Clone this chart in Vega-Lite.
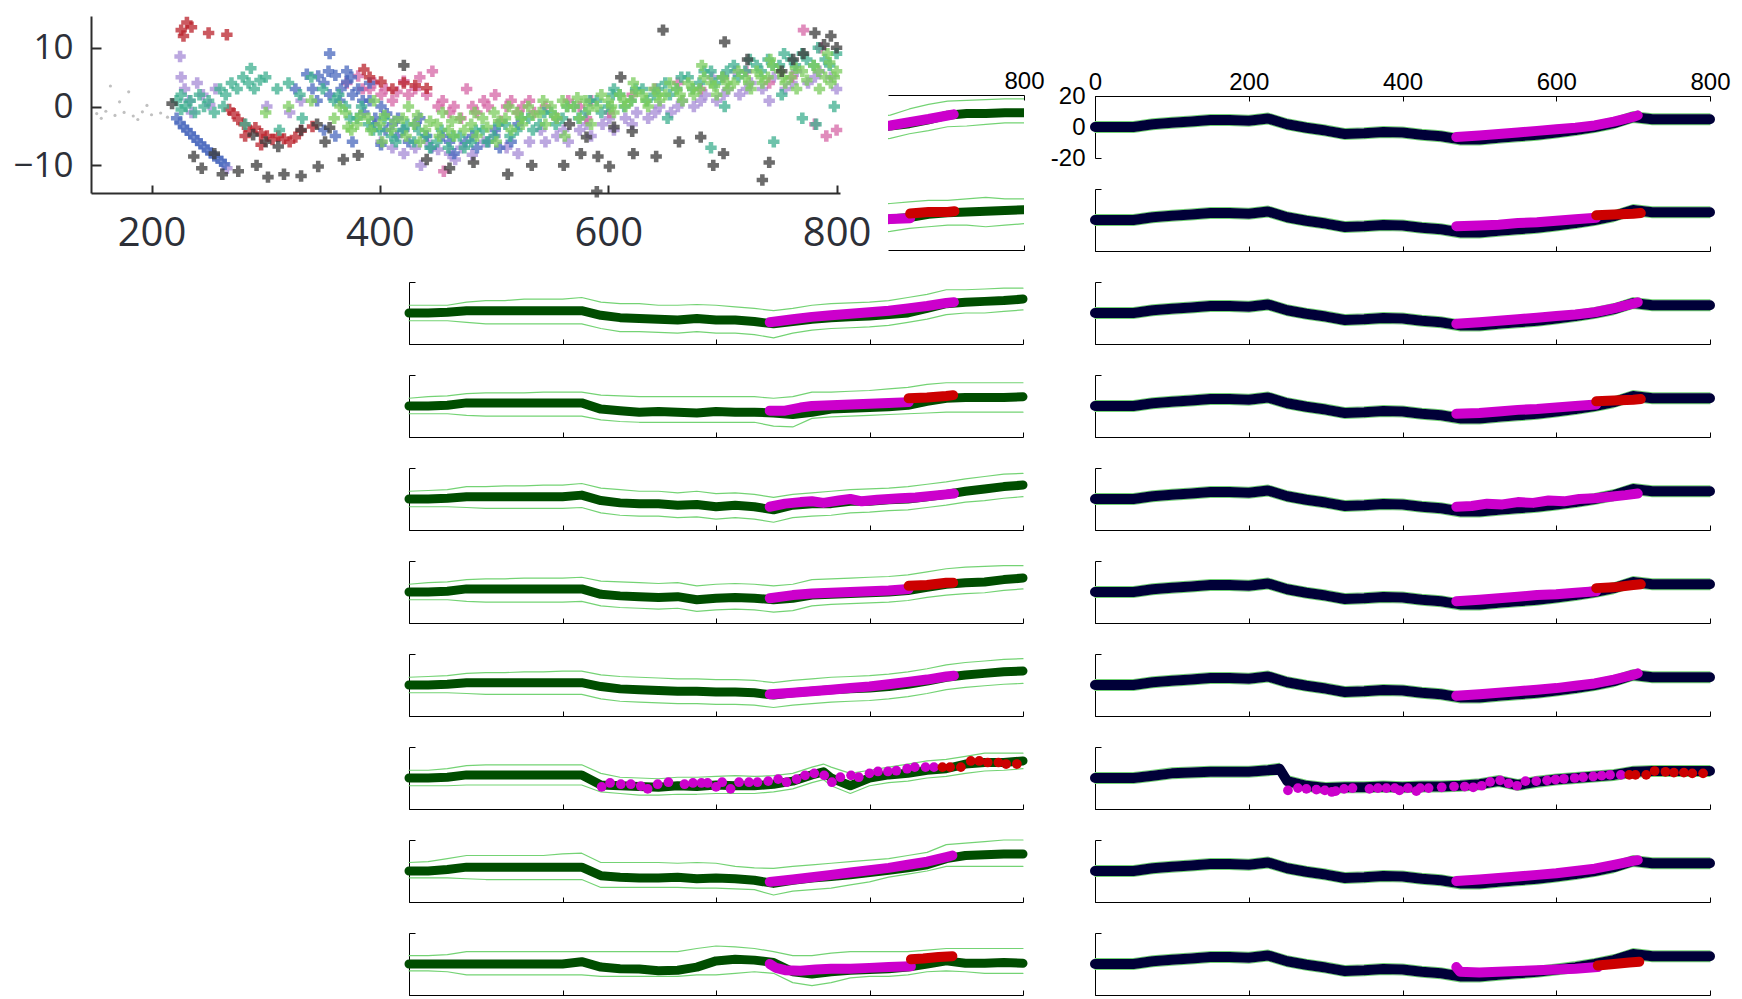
{
"$schema":"https://vega.github.io/schema/vega-lite/v6.json",
"background":"white",
"padding":{"left":12,"top":16,"right":5,"bottom":0},
"config":{"view":{"stroke":null},"axis":{"grid":false,"domainColor":"#000","tickColor":"#000","labelColor":"#000","labelFont":"Liberation Sans","labelFontSize":24,"domainWidth":1,"tickWidth":1,"labelFlush":false},"line":{"strokeCap":"round","strokeJoin":"round"}},
"datasets":{
"sc":[
{"x":152,"y":-1.2,"g":"f"},{"x":160,"y":-0.8,"g":"f"},{"x":168,"y":-1.5,"g":"f"},{"x":176,"y":-1,"g":"f"},{"x":184,"y":-1.6,"g":"f"},{"x":192,"y":-0.9,"g":"f"},{"x":200,"y":-1.4,"g":"f"},{"x":208,"y":-1.1,"g":"f"},{"x":214,"y":-1.8,"g":"f"},{"x":172,"y":0.8,"g":"f"},{"x":196,"y":0.2,"g":"f"},{"x":188,"y":-2.2,"g":"f"},{"x":156,"y":-2,"g":"f"},{"x":180,"y":2.5,"g":"f"},{"x":164,"y":3.5,"g":"f"},
{"x":225,"y":8.5,"g":"v"},{"x":229,"y":3,"g":"v"},{"x":233,"y":1,"g":"v"},{"x":240,"y":4,"g":"v"},{"x":245,"y":2,"g":"v"},{"x":251,"y":0.3,"g":"v"},{"x":256,"y":3,"g":"v"},{"x":301,"y":0,"g":"v"},{"x":321,"y":-1,"g":"v"},{"x":331,"y":1,"g":"v"},{"x":401,"y":-6,"g":"v"},{"x":411,"y":-7,"g":"v"},{"x":421,"y":-8,"g":"v"},{"x":431,"y":-7,"g":"v"},{"x":441,"y":-6,"g":"v"},{"x":451,"y":-7.3,"g":"v"},{"x":461,"y":-8,"g":"v"},{"x":471,"y":-7,"g":"v"},{"x":481,"y":-8.2,"g":"v"},{"x":491,"y":-6,"g":"v"},{"x":501,"y":-5,"g":"v"},{"x":511,"y":-7,"g":"v"},{"x":521,"y":-8,"g":"v"},{"x":531,"y":-6,"g":"v"},{"x":541,"y":-4,"g":"v"},{"x":561,"y":-4,"g":"v"},{"x":581,"y":-3,"g":"v"},{"x":601,"y":-2,"g":"v"},{"x":621,"y":-3,"g":"v"},{"x":641,"y":-1,"g":"v"},{"x":661,"y":0,"g":"v"},{"x":681,"y":1,"g":"v"},{"x":701,"y":2,"g":"v"},{"x":721,"y":3,"g":"v"},{"x":741,"y":1,"g":"v"},{"x":761,"y":4,"g":"v"},{"x":781,"y":5,"g":"v"},{"x":800,"y":3,"g":"v"},{"x":691,"y":5,"g":"v"},{"x":711,"y":6,"g":"v"},{"x":226,"y":5,"g":"v"},{"x":235,"y":-1,"g":"v"},{"x":266,"y":-10.5,"g":"v"},{"x":436,"y":-10,"g":"v"},{"x":466,"y":-9,"g":"v"},
{"x":545,"y":-6,"g":"v"},{"x":555,"y":-5,"g":"v"},{"x":565,"y":-6,"g":"v"},{"x":575,"y":-4,"g":"v"},{"x":585,"y":-5,"g":"v"},{"x":595,"y":-3,"g":"v"},{"x":605,"y":-4,"g":"v"},{"x":615,"y":-2,"g":"v"},{"x":625,"y":-1,"g":"v"},{"x":635,"y":-2,"g":"v"},{"x":645,"y":0,"g":"v"},{"x":655,"y":-1,"g":"v"},{"x":665,"y":1,"g":"v"},{"x":675,"y":0,"g":"v"},{"x":685,"y":2,"g":"v"},{"x":695,"y":1,"g":"v"},{"x":705,"y":3,"g":"v"},{"x":715,"y":2,"g":"v"},{"x":725,"y":4,"g":"v"},{"x":735,"y":3,"g":"v"},{"x":745,"y":5,"g":"v"},{"x":755,"y":3,"g":"v"},{"x":765,"y":6,"g":"v"},{"x":775,"y":4,"g":"v"},{"x":785,"y":6,"g":"v"},{"x":795,"y":5,"g":"v"},
{"x":371,"y":4,"g":"p"},{"x":381,"y":5.2,"g":"p"},{"x":391,"y":3,"g":"p"},{"x":401,"y":2,"g":"p"},{"x":411,"y":1,"g":"p"},{"x":421,"y":4.3,"g":"p"},{"x":431,"y":3,"g":"p"},{"x":441,"y":2,"g":"p"},{"x":451,"y":0,"g":"p"},{"x":461,"y":-1,"g":"p"},{"x":471,"y":-2,"g":"p"},{"x":481,"y":0,"g":"p"},{"x":491,"y":1,"g":"p"},{"x":501,"y":2,"g":"p"},{"x":511,"y":0,"g":"p"},{"x":521,"y":-1,"g":"p"},{"x":531,"y":1,"g":"p"},{"x":621,"y":2,"g":"p"},{"x":641,"y":3,"g":"p"},{"x":661,"y":4,"g":"p"},{"x":681,"y":3,"g":"p"},{"x":701,"y":5,"g":"p"},{"x":721,"y":6,"g":"p"},{"x":741,"y":4,"g":"p"},{"x":761,"y":5,"g":"p"},{"x":781,"y":-3,"g":"p"},{"x":791,"y":-5,"g":"p"},{"x":800,"y":-4,"g":"p"},{"x":601,"y":-1,"g":"p"},{"x":581,"y":-2,"g":"p"},{"x":446,"y":6,"g":"p"},{"x":476,"y":3,"g":"p"},{"x":506,"y":-2.5,"g":"p"},{"x":786,"y":10,"g":"p"},{"x":771,"y":13,"g":"p"},{"x":456,"y":-11,"g":"p"},
{"x":385,"y":3,"g":"p"},{"x":395,"y":4,"g":"p"},{"x":405,"y":3,"g":"p"},{"x":415,"y":2.5,"g":"p"},{"x":425,"y":2,"g":"p"},{"x":435,"y":5,"g":"p"},{"x":455,"y":1,"g":"p"},{"x":465,"y":0,"g":"p"},{"x":485,"y":-1,"g":"p"},{"x":495,"y":0,"g":"p"},{"x":515,"y":1,"g":"p"},{"x":525,"y":0,"g":"p"},{"x":535,"y":-1,"g":"p"},{"x":545,"y":0,"g":"p"},{"x":555,"y":-2,"g":"p"},{"x":565,"y":1,"g":"p"},{"x":575,"y":0,"g":"p"},{"x":585,"y":1,"g":"p"},
{"x":222,"y":-2,"g":"b"},{"x":225,"y":-2.8,"g":"b"},{"x":228,"y":-3.5,"g":"b"},{"x":231,"y":-4,"g":"b"},{"x":234,"y":-4.6,"g":"b"},{"x":237,"y":-5.2,"g":"b"},{"x":240,"y":-5.8,"g":"b"},{"x":243,"y":-6.3,"g":"b"},{"x":246,"y":-6.9,"g":"b"},{"x":249,"y":-7.4,"g":"b"},{"x":252,"y":-7.9,"g":"b"},{"x":255,"y":-8.4,"g":"b"},{"x":258,"y":-8.8,"g":"b"},{"x":261,"y":-9.3,"g":"b"},{"x":264,"y":-9.8,"g":"b"},{"x":341,"y":3,"g":"b"},{"x":346,"y":5.2,"g":"b"},{"x":351,"y":4,"g":"b"},{"x":356,"y":2,"g":"b"},{"x":361,"y":5.3,"g":"b"},{"x":366,"y":3,"g":"b"},{"x":371,"y":4.2,"g":"b"},{"x":376,"y":2,"g":"b"},{"x":381,"y":3,"g":"b"},{"x":386,"y":-1,"g":"b"},{"x":391,"y":1,"g":"b"},{"x":396,"y":-2,"g":"b"},{"x":401,"y":0,"g":"b"},{"x":406,"y":-1.2,"g":"b"},{"x":411,"y":-3,"g":"b"},{"x":416,"y":-2,"g":"b"},{"x":421,"y":-4,"g":"b"},{"x":431,"y":-3,"g":"b"},{"x":441,"y":-5,"g":"b"},{"x":461,"y":-6,"g":"b"},{"x":481,"y":-5,"g":"b"},{"x":501,"y":-4,"g":"b"},{"x":521,"y":-3,"g":"b"},{"x":356,"y":9,"g":"b"},{"x":351,"y":-4,"g":"b"},{"x":361,"y":-5,"g":"b"},{"x":376,"y":-6,"g":"b"},{"x":401,"y":-6.5,"g":"b"},{"x":336,"y":5.5,"g":"b"},{"x":326,"y":3,"g":"b"},{"x":371,"y":6,"g":"b"},{"x":391,"y":4,"g":"b"},
{"x":345,"y":1,"g":"b"},{"x":355,"y":6,"g":"b"},{"x":365,"y":1,"g":"b"},{"x":375,"y":5,"g":"b"},{"x":385,"y":1,"g":"b"},{"x":395,"y":-3,"g":"b"},{"x":405,"y":-4,"g":"b"},{"x":415,"y":-5,"g":"b"},{"x":425,"y":-6,"g":"b"},{"x":435,"y":-2,"g":"b"},{"x":445,"y":-7,"g":"b"},{"x":455,"y":-5,"g":"b"},{"x":465,"y":-8,"g":"b"},{"x":475,"y":-6,"g":"b"},{"x":485,"y":-7,"g":"b"},{"x":495,"y":-6,"g":"b"},{"x":505,"y":-7,"g":"b"},{"x":515,"y":-6,"g":"b"},
{"x":226,"y":13,"g":"r"},{"x":231,"y":14.3,"g":"r"},{"x":235,"y":13.5,"g":"r"},{"x":228,"y":12,"g":"r"},{"x":250,"y":12.5,"g":"r"},{"x":266,"y":12.2,"g":"r"},{"x":272,"y":-1.2,"g":"r"},{"x":276,"y":-2.2,"g":"r"},{"x":281,"y":-3,"g":"r"},{"x":286,"y":-4,"g":"r"},{"x":291,"y":-3.6,"g":"r"},{"x":296,"y":-4.6,"g":"r"},{"x":301,"y":-5,"g":"r"},{"x":306,"y":-5.6,"g":"r"},{"x":311,"y":-5,"g":"r"},{"x":316,"y":-5.5,"g":"r"},{"x":321,"y":-6,"g":"r"},{"x":326,"y":-5.2,"g":"r"},{"x":331,"y":-4.1,"g":"r"},{"x":341,"y":-3.4,"g":"r"},{"x":386,"y":6.3,"g":"r"},{"x":391,"y":5,"g":"r"},{"x":401,"y":4.2,"g":"r"},{"x":411,"y":3,"g":"r"},{"x":421,"y":4,"g":"r"},{"x":431,"y":3.6,"g":"r"},{"x":441,"y":3.1,"g":"r"},{"x":282,"y":-5,"g":"r"},{"x":296,"y":-6.5,"g":"r"},{"x":268,"y":-0.5,"g":"r"},
{"x":222,"y":1,"g":"t"},{"x":226,"y":2,"g":"t"},{"x":230,"y":0,"g":"t"},{"x":234,"y":1,"g":"t"},{"x":238,"y":-1,"g":"t"},{"x":242,"y":2,"g":"t"},{"x":246,"y":0,"g":"t"},{"x":250,"y":1,"g":"t"},{"x":255,"y":-1,"g":"t"},{"x":260,"y":3,"g":"t"},{"x":265,"y":2,"g":"t"},{"x":270,"y":4,"g":"t"},{"x":275,"y":3,"g":"t"},{"x":280,"y":5,"g":"t"},{"x":285,"y":4,"g":"t"},{"x":290,"y":3,"g":"t"},{"x":295,"y":4.5,"g":"t"},{"x":300,"y":5,"g":"t"},{"x":310,"y":3,"g":"t"},{"x":320,"y":4,"g":"t"},{"x":330,"y":2,"g":"t"},{"x":340,"y":5,"g":"t"},{"x":350,"y":3,"g":"t"},{"x":360,"y":1,"g":"t"},{"x":370,"y":0,"g":"t"},{"x":380,"y":-2,"g":"t"},{"x":390,"y":-3,"g":"t"},{"x":400,"y":-4,"g":"t"},{"x":410,"y":-5,"g":"t"},{"x":420,"y":-4,"g":"t"},{"x":430,"y":-6,"g":"t"},{"x":440,"y":-5,"g":"t"},{"x":450,"y":-6,"g":"t"},{"x":460,"y":-7,"g":"t"},{"x":470,"y":-5,"g":"t"},{"x":480,"y":-6,"g":"t"},{"x":490,"y":-4,"g":"t"},{"x":500,"y":-5,"g":"t"},{"x":510,"y":-3,"g":"t"},{"x":520,"y":-4,"g":"t"},{"x":530,"y":-2,"g":"t"},{"x":540,"y":-3,"g":"t"},{"x":550,"y":-1,"g":"t"},{"x":560,"y":-2,"g":"t"},{"x":570,"y":0,"g":"t"},{"x":580,"y":-1,"g":"t"},{"x":590,"y":1,"g":"t"},{"x":600,"y":0,"g":"t"},{"x":610,"y":2,"g":"t"},{"x":620,"y":1,"g":"t"},{"x":630,"y":3,"g":"t"},{"x":640,"y":2,"g":"t"},{"x":650,"y":4,"g":"t"},{"x":660,"y":3,"g":"t"},{"x":670,"y":5,"g":"t"},{"x":680,"y":4,"g":"t"},{"x":690,"y":6,"g":"t"},{"x":700,"y":5,"g":"t"},{"x":710,"y":7,"g":"t"},{"x":720,"y":6,"g":"t"},{"x":730,"y":7,"g":"t"},{"x":740,"y":8,"g":"t"},{"x":750,"y":7,"g":"t"},{"x":760,"y":8,"g":"t"},{"x":770,"y":9,"g":"t"},{"x":780,"y":7,"g":"t"},{"x":790,"y":8,"g":"t"},{"x":800,"y":9,"g":"t"},{"x":605,"y":3,"g":"t"},{"x":652,"y":-2,"g":"t"},{"x":702,"y":0,"g":"t"},{"x":752,"y":2,"g":"t"},{"x":782,"y":-3,"g":"t"},{"x":798,"y":0,"g":"t"},{"x":332,"y":-2,"g":"t"},{"x":312,"y":-4,"g":"t"},{"x":282,"y":-3,"g":"t"},{"x":226,"y":-0.5,"g":"t"},{"x":263,"y":0,"g":"t"},{"x":287,"y":6.5,"g":"t"},{"x":690,"y":-7,"g":"t"},{"x":745,"y":-6,"g":"t"},{"x":770,"y":-2,"g":"t"},
{"x":364,"y":2,"g":"t"},{"x":374,"y":-2,"g":"t"},{"x":384,"y":0,"g":"t"},{"x":394,"y":-4,"g":"t"},{"x":404,"y":-2,"g":"t"},{"x":414,"y":-6,"g":"t"},{"x":424,"y":-3,"g":"t"},{"x":434,"y":-4,"g":"t"},{"x":444,"y":-7,"g":"t"},{"x":454,"y":-4,"g":"t"},{"x":464,"y":-5,"g":"t"},{"x":474,"y":-7,"g":"t"},{"x":484,"y":-4,"g":"t"},{"x":494,"y":-6,"g":"t"},{"x":504,"y":-3,"g":"t"},{"x":514,"y":-5,"g":"t"},{"x":524,"y":-2,"g":"t"},{"x":534,"y":-4,"g":"t"},{"x":544,"y":-1,"g":"t"},{"x":554,"y":-3,"g":"t"},{"x":564,"y":0,"g":"t"},{"x":574,"y":-2,"g":"t"},{"x":584,"y":1,"g":"t"},{"x":594,"y":-1,"g":"t"},{"x":604,"y":2,"g":"t"},{"x":614,"y":0,"g":"t"},{"x":624,"y":3,"g":"t"},{"x":634,"y":1,"g":"t"},{"x":644,"y":3,"g":"t"},{"x":654,"y":2,"g":"t"},{"x":664,"y":5,"g":"t"},{"x":674,"y":3,"g":"t"},{"x":684,"y":6,"g":"t"},{"x":694,"y":4,"g":"t"},{"x":704,"y":6,"g":"t"},{"x":714,"y":5,"g":"t"},{"x":724,"y":8,"g":"t"},{"x":734,"y":6,"g":"t"},{"x":744,"y":7,"g":"t"},{"x":754,"y":9,"g":"t"},{"x":764,"y":7,"g":"t"},{"x":774,"y":8,"g":"t"},{"x":784,"y":10,"g":"t"},{"x":794,"y":7,"g":"t"},
{"x":360,"y":-2,"g":"g"},{"x":370,"y":-1,"g":"g"},{"x":380,"y":-3,"g":"g"},{"x":390,"y":-2,"g":"g"},{"x":400,"y":-3,"g":"g"},{"x":410,"y":-4,"g":"g"},{"x":420,"y":-2,"g":"g"},{"x":430,"y":-3,"g":"g"},{"x":440,"y":-4,"g":"g"},{"x":450,"y":-3,"g":"g"},{"x":460,"y":-4,"g":"g"},{"x":470,"y":-2,"g":"g"},{"x":480,"y":-3,"g":"g"},{"x":490,"y":-2,"g":"g"},{"x":500,"y":-1,"g":"g"},{"x":510,"y":-2,"g":"g"},{"x":520,"y":-1,"g":"g"},{"x":530,"y":0,"g":"g"},{"x":540,"y":-1,"g":"g"},{"x":550,"y":0,"g":"g"},{"x":560,"y":1,"g":"g"},{"x":570,"y":0,"g":"g"},{"x":580,"y":1,"g":"g"},{"x":590,"y":0,"g":"g"},{"x":600,"y":1,"g":"g"},{"x":610,"y":2,"g":"g"},{"x":620,"y":1,"g":"g"},{"x":630,"y":2,"g":"g"},{"x":640,"y":3,"g":"g"},{"x":650,"y":2,"g":"g"},{"x":660,"y":3,"g":"g"},{"x":670,"y":4,"g":"g"},{"x":680,"y":3,"g":"g"},{"x":690,"y":4,"g":"g"},{"x":700,"y":5,"g":"g"},{"x":710,"y":4,"g":"g"},{"x":720,"y":5,"g":"g"},{"x":730,"y":6,"g":"g"},{"x":740,"y":5,"g":"g"},{"x":750,"y":6,"g":"g"},{"x":760,"y":5,"g":"g"},{"x":770,"y":6,"g":"g"},{"x":780,"y":7,"g":"g"},{"x":790,"y":5,"g":"g"},{"x":800,"y":6,"g":"g"},{"x":365,"y":0,"g":"g"},{"x":395,"y":1,"g":"g"},{"x":425,"y":0,"g":"g"},{"x":455,"y":-1,"g":"g"},{"x":485,"y":-5,"g":"g"},{"x":515,"y":-4,"g":"g"},{"x":545,"y":-3,"g":"g"},{"x":575,"y":-2,"g":"g"},{"x":605,"y":-1,"g":"g"},{"x":635,"y":0,"g":"g"},{"x":665,"y":1,"g":"g"},{"x":695,"y":2,"g":"g"},{"x":725,"y":3,"g":"g"},{"x":755,"y":4,"g":"g"},{"x":785,"y":3,"g":"g"},{"x":402,"y":-6,"g":"g"},{"x":502,"y":-6,"g":"g"},{"x":562,"y":-5,"g":"g"},{"x":622,"y":4,"g":"g"},{"x":682,"y":7,"g":"g"},{"x":742,"y":8,"g":"g"},{"x":792,"y":9,"g":"g"},{"x":300,"y":-1,"g":"g"},{"x":320,"y":0,"g":"g"},{"x":340,"y":1,"g":"g"},{"x":375,"y":-4,"g":"g"},{"x":435,"y":-6,"g":"g"},{"x":465,"y":-5,"g":"g"},{"x":525,"y":-3,"g":"g"},{"x":555,"y":-2,"g":"g"},{"x":585,"y":-3,"g":"g"},{"x":615,"y":0,"g":"g"},{"x":645,"y":1,"g":"g"},{"x":675,"y":2,"g":"g"},{"x":705,"y":3,"g":"g"},{"x":735,"y":4,"g":"g"},{"x":765,"y":3,"g":"g"},{"x":795,"y":4,"g":"g"},
{"x":372,"y":-3.5,"g":"g"},{"x":383,"y":-1.5,"g":"g"},{"x":392,"y":-4,"g":"g"},{"x":404,"y":-1.5,"g":"g"},{"x":413,"y":-2.5,"g":"g"},{"x":423,"y":-5,"g":"g"},{"x":433,"y":-1.5,"g":"g"},{"x":444,"y":-2.5,"g":"g"},{"x":452,"y":-5,"g":"g"},{"x":463,"y":-2.5,"g":"g"},{"x":474,"y":-4,"g":"g"},{"x":483,"y":-1,"g":"g"},{"x":494,"y":-3.5,"g":"g"},{"x":504,"y":-2.5,"g":"g"},{"x":513,"y":0,"g":"g"},{"x":524,"y":-2,"g":"g"},{"x":534,"y":-1.5,"g":"g"},{"x":543,"y":1,"g":"g"},{"x":553,"y":-1.5,"g":"g"},{"x":564,"y":0,"g":"g"},{"x":573,"y":1.5,"g":"g"},{"x":583,"y":-0.5,"g":"g"},{"x":594,"y":2,"g":"g"},{"x":603,"y":0,"g":"g"},{"x":614,"y":1,"g":"g"},{"x":624,"y":2.5,"g":"g"},{"x":633,"y":1,"g":"g"},{"x":644,"y":2,"g":"g"},{"x":654,"y":4,"g":"g"},{"x":663,"y":2,"g":"g"},{"x":674,"y":3,"g":"g"},{"x":684,"y":5,"g":"g"},{"x":693,"y":3.5,"g":"g"},{"x":704,"y":4,"g":"g"},{"x":714,"y":6,"g":"g"},{"x":723,"y":4,"g":"g"},{"x":734,"y":5,"g":"g"},{"x":744,"y":7,"g":"g"},{"x":753,"y":5,"g":"g"},{"x":764,"y":6.5,"g":"g"},{"x":774,"y":4.5,"g":"g"},{"x":784,"y":6,"g":"g"},{"x":794,"y":7.5,"g":"g"},{"x":798,"y":5,"g":"g"},
{"x":218,"y":0.5,"g":"k"},{"x":237,"y":-8.5,"g":"k"},{"x":244,"y":-10.5,"g":"k"},{"x":262,"y":-11.5,"g":"k"},{"x":276,"y":-11,"g":"k"},{"x":292,"y":-10,"g":"k"},{"x":302,"y":-12,"g":"k"},{"x":316,"y":-11.5,"g":"k"},{"x":331,"y":-11.8,"g":"k"},{"x":346,"y":-10.2,"g":"k"},{"x":352,"y":-6,"g":"k"},{"x":368,"y":-9,"g":"k"},{"x":289,"y":-4.8,"g":"k"},{"x":311,"y":-6.8,"g":"k"},{"x":381,"y":-8.3,"g":"k"},{"x":421,"y":7,"g":"k"},{"x":441,"y":-9,"g":"k"},{"x":461,"y":-10.5,"g":"k"},{"x":482,"y":-9.5,"g":"k"},{"x":512,"y":-11.5,"g":"k"},{"x":533,"y":-10,"g":"k"},{"x":561,"y":-10,"g":"k"},{"x":576,"y":-8,"g":"k"},{"x":591,"y":-8.5,"g":"k"},{"x":601,"y":-10.2,"g":"k"},{"x":622,"y":-8,"g":"k"},{"x":642,"y":-8.5,"g":"k"},{"x":662,"y":-6,"g":"k"},{"x":692,"y":-10,"g":"k"},{"x":701,"y":-8,"g":"k"},{"x":741,"y":-9.5,"g":"k"},{"x":735,"y":-12.5,"g":"k"},{"x":722,"y":8,"g":"k"},{"x":752,"y":6,"g":"k"},{"x":771,"y":9,"g":"k"},{"x":789,"y":10.5,"g":"k"},{"x":795,"y":12,"g":"k"},{"x":800,"y":10,"g":"k"},{"x":781,"y":12.5,"g":"k"},{"x":605,"y":-3.5,"g":"k"},{"x":611,"y":5,"g":"k"},{"x":648,"y":13,"g":"k"},{"x":702,"y":11,"g":"k"},{"x":762,"y":8,"g":"k"},{"x":345,"y":-3,"g":"k"},{"x":331,"y":-4,"g":"k"},{"x":356,"y":-3.6,"g":"k"},{"x":566,"y":-3,"g":"k"},{"x":581,"y":-5.2,"g":"k"},{"x":621,"y":-4.2,"g":"k"},{"x":681,"y":-5.2,"g":"k"},{"x":255,"y":-8,"g":"k"},{"x":300,"y":-6,"g":"k"},{"x":590,"y":-14.5,"g":"k"}
],
"m":[
{"p":"L1","x":600,"y":-1,"u":6,"l":-9},{"p":"L1","x":625,"y":0,"u":7,"l":-8},{"p":"L1","x":650,"y":1.5,"u":11,"l":-5},{"p":"L1","x":675,"y":4,"u":14,"l":-3},{"p":"L1","x":700,"y":7,"u":16,"l":-0.5},{"p":"L1","x":725,"y":8,"u":16.5,"l":0},{"p":"L1","x":750,"y":8,"u":17,"l":1},{"p":"L1","x":775,"y":8.5,"u":17.5,"l":2},{"p":"L1","x":800,"y":8.5,"u":17.5,"l":2},
{"p":"L2","x":600,"y":-1,"u":9,"l":-9},{"p":"L2","x":625,"y":0,"u":10,"l":-8},{"p":"L2","x":650,"y":1,"u":11,"l":-6},{"p":"L2","x":675,"y":3,"u":12,"l":-5},{"p":"L2","x":700,"y":4,"u":12,"l":-4},{"p":"L2","x":725,"y":4.5,"u":13,"l":-4},{"p":"L2","x":750,"y":5,"u":14,"l":-5},{"p":"L2","x":775,"y":5.5,"u":13,"l":-4},{"p":"L2","x":800,"y":6,"u":13,"l":-3},
{"p":"L3","x":0,"y":0,"u":5,"l":-5},{"p":"L3","x":25,"y":0,"u":5,"l":-5},{"p":"L3","x":50,"y":0.5,"u":5,"l":-5},{"p":"L3","x":75,"y":1.5,"u":7,"l":-6},{"p":"L3","x":100,"y":1.5,"u":8,"l":-7},{"p":"L3","x":125,"y":1.5,"u":8,"l":-7},{"p":"L3","x":150,"y":1.5,"u":9,"l":-7},{"p":"L3","x":175,"y":1.5,"u":9,"l":-7},{"p":"L3","x":200,"y":1.5,"u":9,"l":-7},{"p":"L3","x":225,"y":1.5,"u":10,"l":-7},{"p":"L3","x":250,"y":-1.5,"u":7,"l":-10},{"p":"L3","x":275,"y":-3,"u":6,"l":-12},{"p":"L3","x":300,"y":-3.5,"u":6,"l":-12},{"p":"L3","x":325,"y":-4,"u":5,"l":-12.5},{"p":"L3","x":350,"y":-4.5,"u":5,"l":-13},{"p":"L3","x":375,"y":-3.5,"u":5.5,"l":-12},{"p":"L3","x":400,"y":-4.5,"u":5,"l":-13},{"p":"L3","x":425,"y":-4.5,"u":4,"l":-13},{"p":"L3","x":450,"y":-5.5,"u":3,"l":-14},{"p":"L3","x":475,"y":-7,"u":1.5,"l":-16},{"p":"L3","x":500,"y":-5.5,"u":3,"l":-13},{"p":"L3","x":525,"y":-4,"u":5,"l":-11},{"p":"L3","x":550,"y":-3,"u":6,"l":-10},{"p":"L3","x":575,"y":-2.5,"u":6.5,"l":-9.5},{"p":"L3","x":600,"y":-2,"u":7,"l":-9},{"p":"L3","x":625,"y":-1,"u":8,"l":-8},{"p":"L3","x":650,"y":0,"u":10,"l":-6},{"p":"L3","x":675,"y":3,"u":12,"l":-4},{"p":"L3","x":700,"y":6,"u":15,"l":-1},{"p":"L3","x":725,"y":7,"u":15,"l":0},{"p":"L3","x":750,"y":7.5,"u":15.5,"l":0},{"p":"L3","x":775,"y":8,"u":16,"l":1},{"p":"L3","x":800,"y":9,"u":16,"l":2},
{"p":"L4","x":0,"y":0,"u":5,"l":-5},{"p":"L4","x":25,"y":0,"u":6,"l":-5},{"p":"L4","x":50,"y":0.5,"u":6.5,"l":-5},{"p":"L4","x":75,"y":2,"u":8,"l":-6},{"p":"L4","x":100,"y":2,"u":8.5,"l":-6.5},{"p":"L4","x":125,"y":2,"u":8.5,"l":-6.5},{"p":"L4","x":150,"y":2,"u":8.5,"l":-6.5},{"p":"L4","x":175,"y":2,"u":9,"l":-6.5},{"p":"L4","x":200,"y":2,"u":9,"l":-6.5},{"p":"L4","x":225,"y":2,"u":9,"l":-6.5},{"p":"L4","x":250,"y":-2,"u":7,"l":-9},{"p":"L4","x":275,"y":-3,"u":6.5,"l":-10},{"p":"L4","x":300,"y":-4,"u":6,"l":-10.5},{"p":"L4","x":325,"y":-3.5,"u":6,"l":-10.5},{"p":"L4","x":350,"y":-4,"u":6,"l":-10.5},{"p":"L4","x":375,"y":-4.5,"u":6,"l":-10.5},{"p":"L4","x":400,"y":-3.5,"u":6,"l":-10.5},{"p":"L4","x":425,"y":-4,"u":6,"l":-10.5},{"p":"L4","x":450,"y":-4,"u":6,"l":-10.5},{"p":"L4","x":475,"y":-4.5,"u":5,"l":-13},{"p":"L4","x":500,"y":-5.5,"u":6,"l":-13.5},{"p":"L4","x":525,"y":-4,"u":9,"l":-8},{"p":"L4","x":550,"y":-2,"u":9,"l":-7},{"p":"L4","x":575,"y":-1.5,"u":9.5,"l":-6.5},{"p":"L4","x":600,"y":-1,"u":10,"l":-6},{"p":"L4","x":625,"y":-0.5,"u":11,"l":-5.5},{"p":"L4","x":650,"y":0.5,"u":12,"l":-5},{"p":"L4","x":675,"y":3,"u":14,"l":-4.5},{"p":"L4","x":700,"y":5,"u":15,"l":-4},{"p":"L4","x":725,"y":5.5,"u":15,"l":-4},{"p":"L4","x":750,"y":5.5,"u":15,"l":-4},{"p":"L4","x":775,"y":5.5,"u":15,"l":-4},{"p":"L4","x":800,"y":6,"u":15,"l":-4},
{"p":"L5","x":0,"y":0,"u":5,"l":-5},{"p":"L5","x":25,"y":0,"u":5.5,"l":-5},{"p":"L5","x":50,"y":0.5,"u":6,"l":-5},{"p":"L5","x":75,"y":1.5,"u":8,"l":-5.5},{"p":"L5","x":100,"y":1.5,"u":8,"l":-6},{"p":"L5","x":125,"y":1.5,"u":8.5,"l":-6},{"p":"L5","x":150,"y":1.5,"u":8.5,"l":-6},{"p":"L5","x":175,"y":1.5,"u":9,"l":-6},{"p":"L5","x":200,"y":1.5,"u":9,"l":-6},{"p":"L5","x":225,"y":2.5,"u":10,"l":-5.5},{"p":"L5","x":250,"y":-1,"u":7,"l":-9},{"p":"L5","x":275,"y":-2.5,"u":6,"l":-10.5},{"p":"L5","x":300,"y":-3,"u":5,"l":-11},{"p":"L5","x":325,"y":-3,"u":5,"l":-11},{"p":"L5","x":350,"y":-4,"u":4,"l":-12},{"p":"L5","x":375,"y":-3.5,"u":5,"l":-11.5},{"p":"L5","x":400,"y":-5,"u":3.5,"l":-13},{"p":"L5","x":425,"y":-4,"u":4,"l":-12},{"p":"L5","x":450,"y":-5,"u":3,"l":-13},{"p":"L5","x":475,"y":-7,"u":1,"l":-15},{"p":"L5","x":500,"y":-4,"u":3,"l":-12},{"p":"L5","x":525,"y":-3,"u":4,"l":-11},{"p":"L5","x":550,"y":-3,"u":5,"l":-10.5},{"p":"L5","x":575,"y":-1.5,"u":6,"l":-9},{"p":"L5","x":600,"y":-1.5,"u":6.5,"l":-8.5},{"p":"L5","x":625,"y":-0.5,"u":7,"l":-7.5},{"p":"L5","x":650,"y":0,"u":8,"l":-7},{"p":"L5","x":675,"y":1.5,"u":9.5,"l":-5.5},{"p":"L5","x":700,"y":3,"u":11,"l":-4},{"p":"L5","x":725,"y":5,"u":13,"l":-2},{"p":"L5","x":750,"y":6.5,"u":14.5,"l":-1},{"p":"L5","x":775,"y":8,"u":16,"l":0.5},{"p":"L5","x":800,"y":9,"u":16.5,"l":1.5},
{"p":"L6","x":0,"y":0,"u":5,"l":-5},{"p":"L6","x":25,"y":0,"u":6,"l":-5},{"p":"L6","x":50,"y":0.5,"u":6.5,"l":-5},{"p":"L6","x":75,"y":2,"u":8,"l":-6},{"p":"L6","x":100,"y":2,"u":8.5,"l":-6.5},{"p":"L6","x":125,"y":2,"u":8.5,"l":-6.5},{"p":"L6","x":150,"y":2,"u":9,"l":-6.5},{"p":"L6","x":175,"y":2,"u":9,"l":-6.5},{"p":"L6","x":200,"y":2,"u":9,"l":-6.5},{"p":"L6","x":225,"y":2,"u":9.5,"l":-6},{"p":"L6","x":250,"y":-1.5,"u":7,"l":-9},{"p":"L6","x":275,"y":-2.5,"u":6.5,"l":-10},{"p":"L6","x":300,"y":-3,"u":6,"l":-10.5},{"p":"L6","x":325,"y":-3.5,"u":5.5,"l":-11},{"p":"L6","x":350,"y":-3,"u":6,"l":-10.5},{"p":"L6","x":375,"y":-5,"u":4,"l":-12.5},{"p":"L6","x":400,"y":-4,"u":5,"l":-11.5},{"p":"L6","x":425,"y":-3.5,"u":5.5,"l":-11},{"p":"L6","x":450,"y":-4,"u":5,"l":-11.5},{"p":"L6","x":475,"y":-5,"u":4,"l":-13},{"p":"L6","x":500,"y":-4,"u":5,"l":-12},{"p":"L6","x":525,"y":-2,"u":8,"l":-9},{"p":"L6","x":550,"y":-1.5,"u":8.5,"l":-8},{"p":"L6","x":575,"y":-1,"u":9,"l":-7.5},{"p":"L6","x":600,"y":-0.5,"u":9.5,"l":-7},{"p":"L6","x":625,"y":0,"u":10,"l":-6.5},{"p":"L6","x":650,"y":1,"u":11,"l":-5.5},{"p":"L6","x":675,"y":3,"u":13,"l":-3.5},{"p":"L6","x":700,"y":5,"u":15,"l":-2},{"p":"L6","x":725,"y":6,"u":16,"l":-1},{"p":"L6","x":750,"y":6.5,"u":16.5,"l":-0.5},{"p":"L6","x":775,"y":8,"u":17,"l":1},{"p":"L6","x":800,"y":9,"u":17,"l":2},
{"p":"L7","x":0,"y":0,"u":5,"l":-5},{"p":"L7","x":25,"y":0,"u":5.5,"l":-5},{"p":"L7","x":50,"y":0.5,"u":6,"l":-5},{"p":"L7","x":75,"y":1.5,"u":7.5,"l":-5.5},{"p":"L7","x":100,"y":1.5,"u":8,"l":-6},{"p":"L7","x":125,"y":1.5,"u":8,"l":-6},{"p":"L7","x":150,"y":1.5,"u":8.5,"l":-6},{"p":"L7","x":175,"y":1.5,"u":8.5,"l":-6},{"p":"L7","x":200,"y":1.5,"u":9,"l":-6},{"p":"L7","x":225,"y":1.5,"u":9,"l":-6},{"p":"L7","x":250,"y":-1,"u":6.5,"l":-9},{"p":"L7","x":275,"y":-2.5,"u":5.5,"l":-10.5},{"p":"L7","x":300,"y":-3,"u":5,"l":-11},{"p":"L7","x":325,"y":-3.5,"u":4.5,"l":-11.5},{"p":"L7","x":350,"y":-4,"u":4,"l":-12},{"p":"L7","x":375,"y":-4,"u":4,"l":-12},{"p":"L7","x":400,"y":-4.5,"u":3.5,"l":-12.5},{"p":"L7","x":425,"y":-4.5,"u":3.5,"l":-12.5},{"p":"L7","x":450,"y":-5,"u":3,"l":-13},{"p":"L7","x":475,"y":-6.5,"u":1.5,"l":-14.5},{"p":"L7","x":500,"y":-5,"u":3,"l":-13},{"p":"L7","x":525,"y":-4,"u":4,"l":-12},{"p":"L7","x":550,"y":-3,"u":5,"l":-11},{"p":"L7","x":575,"y":-2.5,"u":5.5,"l":-10.5},{"p":"L7","x":600,"y":-2,"u":6,"l":-10},{"p":"L7","x":625,"y":-1,"u":7,"l":-9},{"p":"L7","x":650,"y":0.5,"u":8.5,"l":-7.5},{"p":"L7","x":675,"y":2.5,"u":10.5,"l":-5.5},{"p":"L7","x":700,"y":5,"u":13,"l":-3},{"p":"L7","x":725,"y":6.5,"u":14.5,"l":-1.5},{"p":"L7","x":750,"y":7.5,"u":15.5,"l":-0.5},{"p":"L7","x":775,"y":8.5,"u":16.5,"l":0.5},{"p":"L7","x":800,"y":9,"u":17,"l":1},
{"p":"L8","x":0,"y":0,"u":5,"l":-5},{"p":"L8","x":25,"y":0,"u":5,"l":-5},{"p":"L8","x":50,"y":0.5,"u":6,"l":-5},{"p":"L8","x":75,"y":2,"u":8,"l":-4.5},{"p":"L8","x":100,"y":2,"u":8.5,"l":-4.5},{"p":"L8","x":125,"y":2,"u":8.5,"l":-4.5},{"p":"L8","x":150,"y":2,"u":8.5,"l":-4.5},{"p":"L8","x":175,"y":2,"u":8.5,"l":-4.5},{"p":"L8","x":200,"y":2,"u":8.5,"l":-4.5},{"p":"L8","x":225,"y":2,"u":8.5,"l":-4.5},{"p":"L8","x":250,"y":-4.5,"u":3,"l":-9},{"p":"L8","x":275,"y":-5,"u":0.5,"l":-10},{"p":"L8","x":300,"y":-5.5,"u":0,"l":-11},{"p":"L8","x":325,"y":-6,"u":-0.5,"l":-11},{"p":"L8","x":350,"y":-5,"u":0.5,"l":-10.5},{"p":"L8","x":375,"y":-5.5,"u":0.5,"l":-10.5},{"p":"L8","x":400,"y":-4.5,"u":1,"l":-10},{"p":"L8","x":425,"y":-5,"u":1.5,"l":-10},{"p":"L8","x":450,"y":-5,"u":1,"l":-10},{"p":"L8","x":475,"y":-4,"u":1.5,"l":-9},{"p":"L8","x":500,"y":-2,"u":3,"l":-7},{"p":"L8","x":525,"y":2,"u":7,"l":-3},{"p":"L8","x":540,"y":4,"u":9,"l":-1},{"p":"L8","x":550,"y":0,"u":7,"l":-5},{"p":"L8","x":575,"y":-5,"u":3,"l":-10},{"p":"L8","x":600,"y":0,"u":5,"l":-5},{"p":"L8","x":625,"y":2,"u":7,"l":-3},{"p":"L8","x":650,"y":3,"u":9,"l":-2},{"p":"L8","x":675,"y":5,"u":11,"l":0},{"p":"L8","x":700,"y":6,"u":12,"l":1},{"p":"L8","x":725,"y":9,"u":14,"l":3},{"p":"L8","x":750,"y":10,"u":16,"l":4.5},{"p":"L8","x":775,"y":10,"u":16,"l":5},{"p":"L8","x":800,"y":11,"u":16,"l":6},
{"p":"L9","x":0,"y":0,"u":5.5,"l":-4.4},{"p":"L9","x":25,"y":0,"u":6,"l":-4.4},{"p":"L9","x":50,"y":1,"u":8,"l":-4.4},{"p":"L9","x":75,"y":2.5,"u":10,"l":-5},{"p":"L9","x":100,"y":2.5,"u":10,"l":-5.5},{"p":"L9","x":125,"y":2.5,"u":10,"l":-5.5},{"p":"L9","x":150,"y":2.5,"u":10,"l":-5.5},{"p":"L9","x":175,"y":2.5,"u":10,"l":-5.5},{"p":"L9","x":200,"y":2.5,"u":11,"l":-5.5},{"p":"L9","x":225,"y":2.5,"u":11.5,"l":-5.5},{"p":"L9","x":250,"y":-3,"u":5.5,"l":-10.6},{"p":"L9","x":275,"y":-4,"u":5.5,"l":-10.6},{"p":"L9","x":300,"y":-4.5,"u":5.5,"l":-10.6},{"p":"L9","x":325,"y":-4.5,"u":5.5,"l":-10.6},{"p":"L9","x":350,"y":-4,"u":5,"l":-10.6},{"p":"L9","x":375,"y":-5,"u":5.5,"l":-11},{"p":"L9","x":400,"y":-4.5,"u":5,"l":-11},{"p":"L9","x":425,"y":-5,"u":3,"l":-11.5},{"p":"L9","x":450,"y":-6,"u":2,"l":-12},{"p":"L9","x":475,"y":-8,"u":1.7,"l":-15.5},{"p":"L9","x":500,"y":-6,"u":3,"l":-13},{"p":"L9","x":525,"y":-4.5,"u":4,"l":-12},{"p":"L9","x":550,"y":-3.5,"u":5,"l":-11},{"p":"L9","x":575,"y":-2.5,"u":6,"l":-9},{"p":"L9","x":600,"y":-1,"u":7,"l":-7},{"p":"L9","x":625,"y":0.5,"u":8,"l":-4},{"p":"L9","x":650,"y":2,"u":10,"l":-2},{"p":"L9","x":675,"y":4,"u":12,"l":0},{"p":"L9","x":700,"y":8,"u":17,"l":3},{"p":"L9","x":725,"y":10,"u":18,"l":3},{"p":"L9","x":750,"y":10.5,"u":19,"l":3},{"p":"L9","x":775,"y":11,"u":20,"l":3},{"p":"L9","x":800,"y":11,"u":20,"l":3},
{"p":"L10","x":0,"y":0,"u":5.4,"l":-4.4},{"p":"L10","x":25,"y":0,"u":5.4,"l":-4.4},{"p":"L10","x":50,"y":0,"u":6,"l":-5},{"p":"L10","x":75,"y":0,"u":8,"l":-7},{"p":"L10","x":100,"y":0,"u":8,"l":-7},{"p":"L10","x":125,"y":0,"u":8,"l":-7},{"p":"L10","x":150,"y":0,"u":8,"l":-7},{"p":"L10","x":175,"y":0,"u":8,"l":-7},{"p":"L10","x":200,"y":0,"u":8,"l":-7},{"p":"L10","x":225,"y":1.5,"u":8,"l":-7},{"p":"L10","x":250,"y":-2,"u":8,"l":-8},{"p":"L10","x":275,"y":-3,"u":8,"l":-8},{"p":"L10","x":300,"y":-3.2,"u":8,"l":-8},{"p":"L10","x":325,"y":-4.4,"u":8,"l":-8},{"p":"L10","x":350,"y":-4,"u":8,"l":-8},{"p":"L10","x":375,"y":-2,"u":10,"l":-7},{"p":"L10","x":400,"y":2,"u":11.6,"l":-7},{"p":"L10","x":425,"y":3,"u":11,"l":-6},{"p":"L10","x":450,"y":2.5,"u":10,"l":-5},{"p":"L10","x":475,"y":1,"u":8,"l":-6},{"p":"L10","x":500,"y":-5,"u":5.4,"l":-12},{"p":"L10","x":525,"y":-6.5,"u":5.4,"l":-14},{"p":"L10","x":550,"y":-5,"u":7,"l":-12},{"p":"L10","x":575,"y":-4,"u":8,"l":-9},{"p":"L10","x":600,"y":-3.5,"u":8,"l":-8},{"p":"L10","x":625,"y":-3,"u":8,"l":-8},{"p":"L10","x":650,"y":-2,"u":8,"l":-7},{"p":"L10","x":675,"y":0,"u":9,"l":-5},{"p":"L10","x":700,"y":2,"u":10,"l":-4.4},{"p":"L10","x":725,"y":0.5,"u":10,"l":-5},{"p":"L10","x":750,"y":0.5,"u":10,"l":-6},{"p":"L10","x":775,"y":1,"u":10,"l":-6},{"p":"L10","x":800,"y":0.5,"u":10,"l":-6},
{"p":"R","x":0,"y":0,"u":3.5,"l":-3.5},{"p":"R","x":25,"y":0,"u":3.5,"l":-3.5},{"p":"R","x":50,"y":0,"u":3.5,"l":-3.5},{"p":"R","x":75,"y":1.8,"u":5.3,"l":-1.7},{"p":"R","x":100,"y":2.7,"u":6.2,"l":-0.8},{"p":"R","x":125,"y":3.6,"u":7.1,"l":0.1},{"p":"R","x":150,"y":4.5,"u":8,"l":1},{"p":"R","x":175,"y":4.5,"u":8,"l":1},{"p":"R","x":200,"y":4,"u":7.5,"l":0.5},{"p":"R","x":225,"y":5.5,"u":9,"l":2},{"p":"R","x":250,"y":1.8,"u":5.3,"l":-1.7},{"p":"R","x":275,"y":-0.5,"u":3,"l":-4},{"p":"R","x":300,"y":-2.3,"u":1.2,"l":-5.8},{"p":"R","x":325,"y":-4.5,"u":-1,"l":-8},{"p":"R","x":350,"y":-4,"u":-0.5,"l":-7.5},{"p":"R","x":375,"y":-3.2,"u":0.3,"l":-6.7},{"p":"R","x":400,"y":-3.6,"u":-0.1,"l":-7.1},{"p":"R","x":425,"y":-5,"u":-1.5,"l":-8.5},{"p":"R","x":450,"y":-6,"u":-2.5,"l":-9.5},{"p":"R","x":475,"y":-8,"u":-4.5,"l":-11.5},{"p":"R","x":500,"y":-8,"u":-4.5,"l":-11.5},{"p":"R","x":525,"y":-7,"u":-3.5,"l":-10.5},{"p":"R","x":550,"y":-6,"u":-2.5,"l":-9.5},{"p":"R","x":575,"y":-5,"u":-1.5,"l":-8.5},{"p":"R","x":600,"y":-3.5,"u":0,"l":-7},{"p":"R","x":625,"y":-2,"u":1.5,"l":-5.5},{"p":"R","x":650,"y":0,"u":3.5,"l":-3.5},{"p":"R","x":675,"y":2.5,"u":6,"l":-1},{"p":"R","x":700,"y":6.5,"u":10,"l":3},{"p":"R","x":725,"y":5,"u":8.5,"l":1.5},{"p":"R","x":750,"y":5,"u":8.5,"l":1.5},{"p":"R","x":775,"y":5,"u":8.5,"l":1.5},{"p":"R","x":800,"y":5,"u":8.5,"l":1.5},
{"p":"R8","x":0,"y":0,"u":3.5,"l":-3.5},{"p":"R8","x":25,"y":0,"u":3.5,"l":-3.5},{"p":"R8","x":50,"y":0,"u":3.5,"l":-3.5},{"p":"R8","x":75,"y":1.5,"u":5,"l":-2},{"p":"R8","x":100,"y":3,"u":6.5,"l":-0.5},{"p":"R8","x":125,"y":3.6,"u":7.1,"l":0.1},{"p":"R8","x":150,"y":4,"u":7.5,"l":0.5},{"p":"R8","x":175,"y":4,"u":7.5,"l":0.5},{"p":"R8","x":200,"y":4,"u":7.5,"l":0.5},{"p":"R8","x":225,"y":5,"u":8.5,"l":1.5},{"p":"R8","x":240,"y":6,"u":9.5,"l":2.5},{"p":"R8","x":250,"y":-2,"u":1.5,"l":-5.5},{"p":"R8","x":275,"y":-5,"u":-1.5,"l":-8.5},{"p":"R8","x":300,"y":-6.5,"u":-3,"l":-10},{"p":"R8","x":325,"y":-6,"u":-2.5,"l":-9.5},{"p":"R8","x":350,"y":-6,"u":-2.5,"l":-9.5},{"p":"R8","x":375,"y":-5.5,"u":-2,"l":-9},{"p":"R8","x":400,"y":-6,"u":-2.5,"l":-9.5},{"p":"R8","x":425,"y":-5.5,"u":-2,"l":-9},{"p":"R8","x":450,"y":-5.5,"u":-2,"l":-9},{"p":"R8","x":475,"y":-5,"u":-1.5,"l":-8.5},{"p":"R8","x":500,"y":-4,"u":-0.5,"l":-7.5},{"p":"R8","x":525,"y":-2,"u":1.5,"l":-5.5},{"p":"R8","x":550,"y":-4.5,"u":-1,"l":-8},{"p":"R8","x":575,"y":-2.5,"u":1,"l":-6},{"p":"R8","x":600,"y":-1,"u":2.5,"l":-4.5},{"p":"R8","x":625,"y":0,"u":3.5,"l":-3.5},{"p":"R8","x":650,"y":1,"u":4.5,"l":-2.5},{"p":"R8","x":675,"y":2,"u":5.5,"l":-1.5},{"p":"R8","x":700,"y":4,"u":7.5,"l":0.5},{"p":"R8","x":725,"y":4.5,"u":8,"l":1},{"p":"R8","x":750,"y":4.5,"u":8,"l":1},{"p":"R8","x":775,"y":4.5,"u":8,"l":1},{"p":"R8","x":800,"y":4.5,"u":8,"l":1}
],
"s":[
{"p":"L1","x":600,"y":-1,"c":"m"},{"p":"L1","x":625,"y":0.3,"c":"m"},{"p":"L1","x":650,"y":2.5,"c":"m"},{"p":"L1","x":675,"y":4.5,"c":"m"},{"p":"L1","x":700,"y":6.8,"c":"m"},{"p":"L1","x":708,"y":7.5,"c":"m"},
{"p":"L2","x":600,"y":-1,"c":"m"},{"p":"L2","x":625,"y":0,"c":"m"},{"p":"L2","x":651,"y":0.5,"c":"m"},{"p":"L2","x":651,"y":3.5,"c":"r"},{"p":"L2","x":675,"y":4.5,"c":"r"},{"p":"L2","x":700,"y":4.5,"c":"r"},{"p":"L2","x":709,"y":5,"c":"r"},
{"p":"L3","x":470,"y":-6,"c":"m"},{"p":"L3","x":500,"y":-4,"c":"m"},{"p":"L3","x":525,"y":-2.5,"c":"m"},{"p":"L3","x":550,"y":-1.5,"c":"m"},{"p":"L3","x":575,"y":-0.5,"c":"m"},{"p":"L3","x":600,"y":0.5,"c":"m"},{"p":"L3","x":625,"y":1.5,"c":"m"},{"p":"L3","x":650,"y":3,"c":"m"},{"p":"L3","x":675,"y":4.5,"c":"m"},{"p":"L3","x":700,"y":6.5,"c":"m"},{"p":"L3","x":710,"y":7,"c":"m"},
{"p":"L4","x":470,"y":-3,"c":"m"},{"p":"L4","x":490,"y":-3,"c":"m"},{"p":"L4","x":510,"y":-1,"c":"m"},{"p":"L4","x":525,"y":0,"c":"m"},{"p":"L4","x":550,"y":0.5,"c":"m"},{"p":"L4","x":575,"y":1,"c":"m"},{"p":"L4","x":600,"y":1.5,"c":"m"},{"p":"L4","x":625,"y":2,"c":"m"},{"p":"L4","x":651,"y":2.5,"c":"m"},{"p":"L4","x":651,"y":5,"c":"r"},{"p":"L4","x":675,"y":5.5,"c":"r"},{"p":"L4","x":700,"y":6.5,"c":"r"},{"p":"L4","x":709,"y":7,"c":"r"},
{"p":"L5","x":470,"y":-5,"c":"m"},{"p":"L5","x":490,"y":-3,"c":"m"},{"p":"L5","x":510,"y":-2,"c":"m"},{"p":"L5","x":525,"y":-1.5,"c":"m"},{"p":"L5","x":540,"y":-2.5,"c":"m"},{"p":"L5","x":560,"y":-1,"c":"m"},{"p":"L5","x":575,"y":0,"c":"m"},{"p":"L5","x":590,"y":-1.5,"c":"m"},{"p":"L5","x":610,"y":-0.5,"c":"m"},{"p":"L5","x":625,"y":0,"c":"m"},{"p":"L5","x":640,"y":0.5,"c":"m"},{"p":"L5","x":660,"y":1,"c":"m"},{"p":"L5","x":680,"y":2,"c":"m"},{"p":"L5","x":700,"y":3,"c":"m"},{"p":"L5","x":710,"y":3.5,"c":"m"},
{"p":"L6","x":470,"y":-4,"c":"m"},{"p":"L6","x":500,"y":-2,"c":"m"},{"p":"L6","x":525,"y":-1,"c":"m"},{"p":"L6","x":550,"y":-0.5,"c":"m"},{"p":"L6","x":575,"y":0,"c":"m"},{"p":"L6","x":600,"y":0.5,"c":"m"},{"p":"L6","x":625,"y":1,"c":"m"},{"p":"L6","x":651,"y":2,"c":"m"},{"p":"L6","x":651,"y":4,"c":"r"},{"p":"L6","x":675,"y":4.5,"c":"r"},{"p":"L6","x":700,"y":6,"c":"r"},{"p":"L6","x":709,"y":6,"c":"r"},
{"p":"L7","x":470,"y":-6,"c":"m"},{"p":"L7","x":500,"y":-5,"c":"m"},{"p":"L7","x":525,"y":-4,"c":"m"},{"p":"L7","x":550,"y":-3,"c":"m"},{"p":"L7","x":575,"y":-2,"c":"m"},{"p":"L7","x":600,"y":-1,"c":"m"},{"p":"L7","x":625,"y":0.5,"c":"m"},{"p":"L7","x":650,"y":2,"c":"m"},{"p":"L7","x":675,"y":3.5,"c":"m"},{"p":"L7","x":700,"y":5.5,"c":"m"},{"p":"L7","x":710,"y":6,"c":"m"},
{"p":"L8","x":251,"y":-5.7,"c":"m"},{"p":"L8","x":262,"y":-3.2,"c":"m"},{"p":"L8","x":276,"y":-4,"c":"m"},{"p":"L8","x":289,"y":-4,"c":"m"},{"p":"L8","x":302,"y":-5.2,"c":"m"},{"p":"L8","x":311,"y":-7,"c":"m"},{"p":"L8","x":324,"y":-4,"c":"m"},{"p":"L8","x":338,"y":-2.7,"c":"m"},{"p":"L8","x":359,"y":-4,"c":"m"},{"p":"L8","x":370,"y":-3.2,"c":"m"},{"p":"L8","x":381,"y":-3.2,"c":"m"},{"p":"L8","x":389,"y":-3.2,"c":"m"},{"p":"L8","x":400,"y":-5.7,"c":"m"},{"p":"L8","x":408,"y":-2.7,"c":"m"},{"p":"L8","x":419,"y":-7,"c":"m"},{"p":"L8","x":430,"y":-2.7,"c":"m"},{"p":"L8","x":443,"y":-2.7,"c":"m"},{"p":"L8","x":454,"y":-2.7,"c":"m"},{"p":"L8","x":468,"y":-2,"c":"m"},{"p":"L8","x":481,"y":-0.7,"c":"m"},{"p":"L8","x":492,"y":-2.7,"c":"m"},{"p":"L8","x":505,"y":-0.7,"c":"m"},{"p":"L8","x":516,"y":1.7,"c":"m"},{"p":"L8","x":528,"y":3,"c":"m"},{"p":"L8","x":541,"y":1.7,"c":"m"},{"p":"L8","x":551,"y":-2.7,"c":"m"},{"p":"L8","x":562,"y":0.5,"c":"m"},{"p":"L8","x":576,"y":1.7,"c":"m"},{"p":"L8","x":586,"y":0.5,"c":"m"},{"p":"L8","x":600,"y":3,"c":"m"},{"p":"L8","x":611,"y":4.2,"c":"m"},{"p":"L8","x":624,"y":4.2,"c":"m"},{"p":"L8","x":635,"y":4.7,"c":"m"},{"p":"L8","x":649,"y":6,"c":"m"},{"p":"L8","x":659,"y":7,"c":"m"},{"p":"L8","x":673,"y":7,"c":"m"},{"p":"L8","x":684,"y":7,"c":"m"},{"p":"L8","x":695,"y":7,"c":"r"},{"p":"L8","x":705,"y":7,"c":"r"},{"p":"L8","x":719,"y":7,"c":"r"},{"p":"L8","x":732,"y":11,"c":"r"},{"p":"L8","x":743,"y":11,"c":"r"},{"p":"L8","x":754,"y":10,"c":"r"},{"p":"L8","x":768,"y":10,"c":"r"},{"p":"L8","x":778,"y":9,"c":"r"},{"p":"L8","x":792,"y":9,"c":"r"},
{"p":"L9","x":470,"y":-7,"c":"m"},{"p":"L9","x":500,"y":-5.5,"c":"m"},{"p":"L9","x":525,"y":-4,"c":"m"},{"p":"L9","x":550,"y":-2.5,"c":"m"},{"p":"L9","x":575,"y":-1,"c":"m"},{"p":"L9","x":600,"y":0.5,"c":"m"},{"p":"L9","x":625,"y":2,"c":"m"},{"p":"L9","x":650,"y":4,"c":"m"},{"p":"L9","x":675,"y":6,"c":"m"},{"p":"L9","x":700,"y":9,"c":"m"},{"p":"L9","x":708,"y":10,"c":"m"},
{"p":"L10","x":470,"y":0,"c":"m"},{"p":"L10","x":478,"y":-2.5,"c":"m"},{"p":"L10","x":490,"y":-4,"c":"m"},{"p":"L10","x":510,"y":-4.4,"c":"m"},{"p":"L10","x":530,"y":-3.5,"c":"m"},{"p":"L10","x":550,"y":-3,"c":"m"},{"p":"L10","x":575,"y":-3,"c":"m"},{"p":"L10","x":600,"y":-2.5,"c":"m"},{"p":"L10","x":625,"y":-2,"c":"m"},{"p":"L10","x":654,"y":-1.5,"c":"m"},{"p":"L10","x":654,"y":3,"c":"r"},{"p":"L10","x":670,"y":3.5,"c":"r"},{"p":"L10","x":690,"y":4.5,"c":"r"},{"p":"L10","x":708,"y":5,"c":"r"},
{"p":"R1","x":470,"y":-6.5,"c":"m"},{"p":"R1","x":500,"y":-5.5,"c":"m"},{"p":"R1","x":525,"y":-4.5,"c":"m"},{"p":"R1","x":550,"y":-3.5,"c":"m"},{"p":"R1","x":575,"y":-2.5,"c":"m"},{"p":"R1","x":600,"y":-1.5,"c":"m"},{"p":"R1","x":625,"y":-0.5,"c":"m"},{"p":"R1","x":650,"y":1,"c":"m"},{"p":"R1","x":675,"y":3.5,"c":"m"},{"p":"R1","x":700,"y":6.5,"c":"m"},{"p":"R1","x":706,"y":7.5,"c":"m"},
{"p":"R2","x":470,"y":-4,"c":"m"},{"p":"R2","x":500,"y":-3.5,"c":"m"},{"p":"R2","x":525,"y":-3,"c":"m"},{"p":"R2","x":550,"y":-2,"c":"m"},{"p":"R2","x":575,"y":-1.5,"c":"m"},{"p":"R2","x":600,"y":-0.5,"c":"m"},{"p":"R2","x":625,"y":0.5,"c":"m"},{"p":"R2","x":652,"y":1.5,"c":"m"},{"p":"R2","x":652,"y":3,"c":"r"},{"p":"R2","x":675,"y":3.5,"c":"r"},{"p":"R2","x":700,"y":4,"c":"r"},{"p":"R2","x":710,"y":4.5,"c":"r"},
{"p":"R3","x":470,"y":-7,"c":"m"},{"p":"R3","x":500,"y":-6,"c":"m"},{"p":"R3","x":525,"y":-5,"c":"m"},{"p":"R3","x":550,"y":-4,"c":"m"},{"p":"R3","x":575,"y":-3,"c":"m"},{"p":"R3","x":600,"y":-2,"c":"m"},{"p":"R3","x":625,"y":-1,"c":"m"},{"p":"R3","x":650,"y":0.5,"c":"m"},{"p":"R3","x":675,"y":3,"c":"m"},{"p":"R3","x":700,"y":6,"c":"m"},{"p":"R3","x":706,"y":7,"c":"m"},
{"p":"R4","x":470,"y":-5,"c":"m"},{"p":"R4","x":500,"y":-4.5,"c":"m"},{"p":"R4","x":525,"y":-3.5,"c":"m"},{"p":"R4","x":550,"y":-2.5,"c":"m"},{"p":"R4","x":575,"y":-2,"c":"m"},{"p":"R4","x":600,"y":-1,"c":"m"},{"p":"R4","x":625,"y":0,"c":"m"},{"p":"R4","x":652,"y":1,"c":"m"},{"p":"R4","x":652,"y":3,"c":"r"},{"p":"R4","x":675,"y":3.5,"c":"r"},{"p":"R4","x":700,"y":4,"c":"r"},{"p":"R4","x":710,"y":4.5,"c":"r"},
{"p":"R5","x":470,"y":-5,"c":"m"},{"p":"R5","x":490,"y":-4.5,"c":"m"},{"p":"R5","x":510,"y":-3,"c":"m"},{"p":"R5","x":530,"y":-3.5,"c":"m"},{"p":"R5","x":550,"y":-2,"c":"m"},{"p":"R5","x":570,"y":-2.5,"c":"m"},{"p":"R5","x":590,"y":-1,"c":"m"},{"p":"R5","x":610,"y":-1.5,"c":"m"},{"p":"R5","x":630,"y":0,"c":"m"},{"p":"R5","x":650,"y":0.5,"c":"m"},{"p":"R5","x":670,"y":1.5,"c":"m"},{"p":"R5","x":690,"y":2.5,"c":"m"},{"p":"R5","x":706,"y":3.5,"c":"m"},
{"p":"R6","x":470,"y":-6,"c":"m"},{"p":"R6","x":500,"y":-5,"c":"m"},{"p":"R6","x":525,"y":-4,"c":"m"},{"p":"R6","x":550,"y":-3,"c":"m"},{"p":"R6","x":575,"y":-2,"c":"m"},{"p":"R6","x":600,"y":-1.5,"c":"m"},{"p":"R6","x":625,"y":-0.5,"c":"m"},{"p":"R6","x":652,"y":0.5,"c":"m"},{"p":"R6","x":652,"y":2.5,"c":"r"},{"p":"R6","x":675,"y":3,"c":"r"},{"p":"R6","x":700,"y":4.5,"c":"r"},{"p":"R6","x":710,"y":5,"c":"r"},
{"p":"R7","x":470,"y":-7,"c":"m"},{"p":"R7","x":500,"y":-6,"c":"m"},{"p":"R7","x":525,"y":-5,"c":"m"},{"p":"R7","x":550,"y":-4,"c":"m"},{"p":"R7","x":575,"y":-3,"c":"m"},{"p":"R7","x":600,"y":-2,"c":"m"},{"p":"R7","x":625,"y":-0.5,"c":"m"},{"p":"R7","x":650,"y":1,"c":"m"},{"p":"R7","x":675,"y":3.5,"c":"m"},{"p":"R7","x":700,"y":6.5,"c":"m"},{"p":"R7","x":706,"y":7.5,"c":"m"},
{"p":"R8","x":251,"y":-8,"c":"m"},{"p":"R8","x":264,"y":-6.5,"c":"m"},{"p":"R8","x":275,"y":-7,"c":"m"},{"p":"R8","x":288,"y":-7.5,"c":"m"},{"p":"R8","x":299,"y":-8,"c":"m"},{"p":"R8","x":308,"y":-9,"c":"m"},{"p":"R8","x":313,"y":-8.5,"c":"m"},{"p":"R8","x":324,"y":-7,"c":"m"},{"p":"R8","x":335,"y":-6.5,"c":"m"},{"p":"R8","x":357,"y":-7,"c":"m"},{"p":"R8","x":368,"y":-6.5,"c":"m"},{"p":"R8","x":379,"y":-6.5,"c":"m"},{"p":"R8","x":390,"y":-6.5,"c":"m"},{"p":"R8","x":396,"y":-8,"c":"m"},{"p":"R8","x":407,"y":-6.5,"c":"m"},{"p":"R8","x":418,"y":-8.5,"c":"m"},{"p":"R8","x":423,"y":-6.5,"c":"m"},{"p":"R8","x":434,"y":-6.5,"c":"m"},{"p":"R8","x":451,"y":-6,"c":"m"},{"p":"R8","x":467,"y":-5.5,"c":"m"},{"p":"R8","x":481,"y":-5.5,"c":"m"},{"p":"R8","x":492,"y":-6,"c":"m"},{"p":"R8","x":503,"y":-5,"c":"m"},{"p":"R8","x":514,"y":-2.5,"c":"m"},{"p":"R8","x":527,"y":-1.5,"c":"m"},{"p":"R8","x":538,"y":-3.5,"c":"m"},{"p":"R8","x":549,"y":-5,"c":"m"},{"p":"R8","x":560,"y":-2,"c":"m"},{"p":"R8","x":574,"y":-2,"c":"m"},{"p":"R8","x":588,"y":-1.5,"c":"m"},{"p":"R8","x":599,"y":-1,"c":"m"},{"p":"R8","x":610,"y":-0.5,"c":"m"},{"p":"R8","x":624,"y":0,"c":"m"},{"p":"R8","x":635,"y":0.5,"c":"m"},{"p":"R8","x":648,"y":1,"c":"m"},{"p":"R8","x":659,"y":1.5,"c":"m"},{"p":"R8","x":670,"y":2,"c":"m"},{"p":"R8","x":684,"y":2,"c":"m"},{"p":"R8","x":695,"y":2,"c":"r"},{"p":"R8","x":703,"y":2,"c":"r"},{"p":"R8","x":717,"y":2,"c":"r"},{"p":"R8","x":728,"y":4.5,"c":"r"},{"p":"R8","x":742,"y":4,"c":"r"},{"p":"R8","x":753,"y":3.5,"c":"r"},{"p":"R8","x":766,"y":3.5,"c":"r"},{"p":"R8","x":777,"y":3,"c":"r"},{"p":"R8","x":791,"y":3,"c":"r"},
{"p":"R9","x":470,"y":-6.5,"c":"m"},{"p":"R9","x":500,"y":-5.5,"c":"m"},{"p":"R9","x":525,"y":-4.5,"c":"m"},{"p":"R9","x":550,"y":-3.5,"c":"m"},{"p":"R9","x":575,"y":-2.5,"c":"m"},{"p":"R9","x":600,"y":-1.5,"c":"m"},{"p":"R9","x":625,"y":0,"c":"m"},{"p":"R9","x":650,"y":1.5,"c":"m"},{"p":"R9","x":675,"y":4,"c":"m"},{"p":"R9","x":700,"y":6.5,"c":"m"},{"p":"R9","x":706,"y":7,"c":"m"},
{"p":"R10","x":470,"y":-2,"c":"m"},{"p":"R10","x":475,"y":-5,"c":"m"},{"p":"R10","x":500,"y":-5.5,"c":"m"},{"p":"R10","x":525,"y":-5,"c":"m"},{"p":"R10","x":550,"y":-4.5,"c":"m"},{"p":"R10","x":575,"y":-4,"c":"m"},{"p":"R10","x":600,"y":-3.5,"c":"m"},{"p":"R10","x":625,"y":-3,"c":"m"},{"p":"R10","x":654,"y":-2,"c":"m"},{"p":"R10","x":654,"y":-1,"c":"r"},{"p":"R10","x":675,"y":0,"c":"r"},{"p":"R10","x":695,"y":1,"c":"r"},{"p":"R10","x":708,"y":1.5,"c":"r"}
]
},
"spacing":5,
"resolve":{"scale":{"x":"independent","y":"independent","color":"independent"}},
"hconcat":[
{"spacing":28,"resolve":{"scale":{"x":"independent","y":"independent","color":"independent"}},
 "vconcat":[
  {"spacing":17,"resolve":{"scale":{"x":"independent","y":"independent","color":"independent"}},
   "hconcat":[
    {"width":749,"height":177,"data":{"name":"sc"},
     "encoding":{"x":{"field":"x","type":"quantitative","scale":{"domain":[147,803],"nice":false,"zero":false},"axis":{"values":[200,400,600,800],"tickSize":-8,"tickWidth":2,"tickColor":"#2d2d2d","domainColor":"#2d2d2d","domainWidth":2,"labelFont":"Open Sans","labelFontSize":40,"labelColor":"#2d3038","labelPadding":28,"title":null}},
                 "y":{"field":"y","type":"quantitative","scale":{"domain":[-14.7,15.4],"nice":false,"zero":false},"axis":{"values":[-10,0,10],"tickSize":-10,"tickWidth":2,"tickColor":"#2d2d2d","domainColor":"#2d2d2d","domainWidth":2,"labelFont":"Open Sans","labelFontSize":35,"labelColor":"#2d3038","labelPadding":28,"title":null}}},
     "layer":[
      {"transform":[{"filter":"datum.g=='f'"}],"mark":{"type":"circle","size":10,"color":"#b0b0b0","opacity":0.8}},
      {"transform":[{"filter":"datum.g!='f'"}],"mark":{"type":"point","shape":"cross","filled":true,"size":130,"opacity":0.75},
       "encoding":{"color":{"field":"g","type":"nominal","scale":{"domain":["v","p","b","r","t","g","k"],"range":["#a68bd6","#d566a6","#4a68bd","#b9222b","#3daf8f","#7bcc5e","#3b3b3b"]},"legend":null}}}
     ]},
    {"spacing":31,"bounds":"flush","resolve":{"scale":{"x":"independent","y":"independent","color":"independent"}},
     "vconcat":[
      {"width":136,"height":48,"data":{"values":[]},"mark":{"type":"point","opacity":0}},
      {"width":136,"height":62,
       "encoding":{"x":{"field":"x","type":"quantitative","scale":{"domain":[622,800]},"axis":{"orient":"top","values":[800],"tickSize":-5,"labelPadding":7,"title":null}},"y":{"field":"y","type":"quantitative","scale":{"domain":[-20,20]},"axis":null}},
       "layer":[
        {"data":{"name":"m"},"transform":[{"filter":"datum.p=='L1'"},{"fold":["u","l"],"as":["b","v"]}],"mark":{"type":"line","color":"#74d374","strokeWidth":1.2,"clip":true},"encoding":{"y":{"field":"v","type":"quantitative","scale":{"domain":[-20,20]},"axis":null},"detail":{"field":"b","type":"nominal"}}},
        {"data":{"name":"m"},"transform":[{"filter":"datum.p=='L1'"}],"mark":{"type":"line","color":"#004d00","strokeWidth":9,"clip":true}},
        {"data":{"name":"s"},"transform":[{"filter":"datum.p=='L1'"}],"mark":{"type":"line","strokeWidth":10,"clip":true},"encoding":{"color":{"field":"c","type":"nominal","scale":{"domain":["m","r"],"range":["#cc00cc","#cc0000"]},"legend":null}}}
       ]},
      {"width":136,"height":62,
       "encoding":{"x":{"field":"x","type":"quantitative","scale":{"domain":[622,800]},"axis":{"values":[800],"labels":false,"tickSize":-5,"title":null}},"y":{"field":"y","type":"quantitative","scale":{"domain":[-20,20]},"axis":null}},
       "layer":[
        {"data":{"name":"m"},"transform":[{"filter":"datum.p=='L2'"},{"fold":["u","l"],"as":["b","v"]}],"mark":{"type":"line","color":"#74d374","strokeWidth":1.2,"clip":true},"encoding":{"y":{"field":"v","type":"quantitative","scale":{"domain":[-20,20]},"axis":null},"detail":{"field":"b","type":"nominal"}}},
        {"data":{"name":"m"},"transform":[{"filter":"datum.p=='L2'"}],"mark":{"type":"line","color":"#004d00","strokeWidth":9,"clip":true}},
        {"data":{"name":"s"},"transform":[{"filter":"datum.p=='L2'"}],"mark":{"type":"line","strokeWidth":10,"clip":true},"encoding":{"color":{"field":"c","type":"nominal","scale":{"domain":["m","r"],"range":["#cc00cc","#cc0000"]},"legend":null}}}
       ]}
     ]}
   ]},
  {"spacing":0,"resolve":{"scale":{"x":"independent","y":"independent","color":"independent"}},
   "hconcat":[
    {"width":313,"height":10,"data":{"values":[]},"mark":{"type":"point","opacity":0}},
    {"spacing":31,"bounds":"flush","resolve":{"scale":{"x":"independent","y":"independent","color":"independent"}},
     "vconcat":[
      {"width":614,"height":62,"encoding":{"x":{"field":"x","type":"quantitative","scale":{"domain":[0,800]},"axis":{"values":[0,200,400,600,800],"labels":false,"tickSize":-5,"title":null}},"y":{"field":"y","type":"quantitative","scale":{"domain":[-20,20]},"axis":{"values":[-20,20],"labels":false,"tickSize":-6,"title":null}}},
       "layer":[
        {"data":{"name":"m"},"transform":[{"filter":"datum.p=='L3'"},{"fold":["u","l"],"as":["b","v"]}],"mark":{"type":"line","color":"#74d374","strokeWidth":1.2},"encoding":{"y":{"field":"v","type":"quantitative","scale":{"domain":[-20,20]},"axis":{"values":[-20,20],"labels":false,"tickSize":-6,"title":null}},"detail":{"field":"b","type":"nominal"}}},
        {"data":{"name":"m"},"transform":[{"filter":"datum.p=='L3'"}],"mark":{"type":"line","color":"#004d00","strokeWidth":9}},
        {"data":{"name":"s"},"transform":[{"filter":"datum.p=='L3'"}],"mark":{"type":"line","strokeWidth":10},"encoding":{"color":{"field":"c","type":"nominal","scale":{"domain":["m","r"],"range":["#cc00cc","#cc0000"]},"legend":null}}}
       ]},
      {"width":614,"height":62,"encoding":{"x":{"field":"x","type":"quantitative","scale":{"domain":[0,800]},"axis":{"values":[0,200,400,600,800],"labels":false,"tickSize":-5,"title":null}},"y":{"field":"y","type":"quantitative","scale":{"domain":[-20,20]},"axis":{"values":[-20,20],"labels":false,"tickSize":-6,"title":null}}},
       "layer":[
        {"data":{"name":"m"},"transform":[{"filter":"datum.p=='L4'"},{"fold":["u","l"],"as":["b","v"]}],"mark":{"type":"line","color":"#74d374","strokeWidth":1.2},"encoding":{"y":{"field":"v","type":"quantitative","scale":{"domain":[-20,20]},"axis":{"values":[-20,20],"labels":false,"tickSize":-6,"title":null}},"detail":{"field":"b","type":"nominal"}}},
        {"data":{"name":"m"},"transform":[{"filter":"datum.p=='L4'"}],"mark":{"type":"line","color":"#004d00","strokeWidth":9}},
        {"data":{"name":"s"},"transform":[{"filter":"datum.p=='L4'"}],"mark":{"type":"line","strokeWidth":10},"encoding":{"color":{"field":"c","type":"nominal","scale":{"domain":["m","r"],"range":["#cc00cc","#cc0000"]},"legend":null}}}
       ]},
      {"width":614,"height":62,"encoding":{"x":{"field":"x","type":"quantitative","scale":{"domain":[0,800]},"axis":{"values":[0,200,400,600,800],"labels":false,"tickSize":-5,"title":null}},"y":{"field":"y","type":"quantitative","scale":{"domain":[-20,20]},"axis":{"values":[-20,20],"labels":false,"tickSize":-6,"title":null}}},
       "layer":[
        {"data":{"name":"m"},"transform":[{"filter":"datum.p=='L5'"},{"fold":["u","l"],"as":["b","v"]}],"mark":{"type":"line","color":"#74d374","strokeWidth":1.2},"encoding":{"y":{"field":"v","type":"quantitative","scale":{"domain":[-20,20]},"axis":{"values":[-20,20],"labels":false,"tickSize":-6,"title":null}},"detail":{"field":"b","type":"nominal"}}},
        {"data":{"name":"m"},"transform":[{"filter":"datum.p=='L5'"}],"mark":{"type":"line","color":"#004d00","strokeWidth":9}},
        {"data":{"name":"s"},"transform":[{"filter":"datum.p=='L5'"}],"mark":{"type":"line","strokeWidth":10},"encoding":{"color":{"field":"c","type":"nominal","scale":{"domain":["m","r"],"range":["#cc00cc","#cc0000"]},"legend":null}}}
       ]},
      {"width":614,"height":62,"encoding":{"x":{"field":"x","type":"quantitative","scale":{"domain":[0,800]},"axis":{"values":[0,200,400,600,800],"labels":false,"tickSize":-5,"title":null}},"y":{"field":"y","type":"quantitative","scale":{"domain":[-20,20]},"axis":{"values":[-20,20],"labels":false,"tickSize":-6,"title":null}}},
       "layer":[
        {"data":{"name":"m"},"transform":[{"filter":"datum.p=='L6'"},{"fold":["u","l"],"as":["b","v"]}],"mark":{"type":"line","color":"#74d374","strokeWidth":1.2},"encoding":{"y":{"field":"v","type":"quantitative","scale":{"domain":[-20,20]},"axis":{"values":[-20,20],"labels":false,"tickSize":-6,"title":null}},"detail":{"field":"b","type":"nominal"}}},
        {"data":{"name":"m"},"transform":[{"filter":"datum.p=='L6'"}],"mark":{"type":"line","color":"#004d00","strokeWidth":9}},
        {"data":{"name":"s"},"transform":[{"filter":"datum.p=='L6'"}],"mark":{"type":"line","strokeWidth":10},"encoding":{"color":{"field":"c","type":"nominal","scale":{"domain":["m","r"],"range":["#cc00cc","#cc0000"]},"legend":null}}}
       ]},
      {"width":614,"height":62,"encoding":{"x":{"field":"x","type":"quantitative","scale":{"domain":[0,800]},"axis":{"values":[0,200,400,600,800],"labels":false,"tickSize":-5,"title":null}},"y":{"field":"y","type":"quantitative","scale":{"domain":[-20,20]},"axis":{"values":[-20,20],"labels":false,"tickSize":-6,"title":null}}},
       "layer":[
        {"data":{"name":"m"},"transform":[{"filter":"datum.p=='L7'"},{"fold":["u","l"],"as":["b","v"]}],"mark":{"type":"line","color":"#74d374","strokeWidth":1.2},"encoding":{"y":{"field":"v","type":"quantitative","scale":{"domain":[-20,20]},"axis":{"values":[-20,20],"labels":false,"tickSize":-6,"title":null}},"detail":{"field":"b","type":"nominal"}}},
        {"data":{"name":"m"},"transform":[{"filter":"datum.p=='L7'"}],"mark":{"type":"line","color":"#004d00","strokeWidth":9}},
        {"data":{"name":"s"},"transform":[{"filter":"datum.p=='L7'"}],"mark":{"type":"line","strokeWidth":10},"encoding":{"color":{"field":"c","type":"nominal","scale":{"domain":["m","r"],"range":["#cc00cc","#cc0000"]},"legend":null}}}
       ]},
      {"width":614,"height":62,"encoding":{"x":{"field":"x","type":"quantitative","scale":{"domain":[0,800]},"axis":{"values":[0,200,400,600,800],"labels":false,"tickSize":-5,"title":null}},"y":{"field":"y","type":"quantitative","scale":{"domain":[-20,20]},"axis":{"values":[-20,20],"labels":false,"tickSize":-6,"title":null}}},
       "layer":[
        {"data":{"name":"m"},"transform":[{"filter":"datum.p=='L8'"},{"fold":["u","l"],"as":["b","v"]}],"mark":{"type":"line","color":"#74d374","strokeWidth":1.2},"encoding":{"y":{"field":"v","type":"quantitative","scale":{"domain":[-20,20]},"axis":{"values":[-20,20],"labels":false,"tickSize":-6,"title":null}},"detail":{"field":"b","type":"nominal"}}},
        {"data":{"name":"m"},"transform":[{"filter":"datum.p=='L8'"}],"mark":{"type":"line","color":"#004d00","strokeWidth":9}},
        {"data":{"name":"s"},"transform":[{"filter":"datum.p=='L8'"}],"mark":{"type":"circle","size":95,"opacity":1},"encoding":{"color":{"field":"c","type":"nominal","scale":{"domain":["m","r"],"range":["#cc00cc","#cc0000"]},"legend":null}}}
       ]},
      {"width":614,"height":62,"encoding":{"x":{"field":"x","type":"quantitative","scale":{"domain":[0,800]},"axis":{"values":[0,200,400,600,800],"labels":false,"tickSize":-5,"title":null}},"y":{"field":"y","type":"quantitative","scale":{"domain":[-20,20]},"axis":{"values":[-20,20],"labels":false,"tickSize":-6,"title":null}}},
       "layer":[
        {"data":{"name":"m"},"transform":[{"filter":"datum.p=='L9'"},{"fold":["u","l"],"as":["b","v"]}],"mark":{"type":"line","color":"#74d374","strokeWidth":1.2},"encoding":{"y":{"field":"v","type":"quantitative","scale":{"domain":[-20,20]},"axis":{"values":[-20,20],"labels":false,"tickSize":-6,"title":null}},"detail":{"field":"b","type":"nominal"}}},
        {"data":{"name":"m"},"transform":[{"filter":"datum.p=='L9'"}],"mark":{"type":"line","color":"#004d00","strokeWidth":9}},
        {"data":{"name":"s"},"transform":[{"filter":"datum.p=='L9'"}],"mark":{"type":"line","strokeWidth":10},"encoding":{"color":{"field":"c","type":"nominal","scale":{"domain":["m","r"],"range":["#cc00cc","#cc0000"]},"legend":null}}}
       ]},
      {"width":614,"height":62,"encoding":{"x":{"field":"x","type":"quantitative","scale":{"domain":[0,800]},"axis":{"values":[0,200,400,600,800],"labels":false,"tickSize":-5,"title":null}},"y":{"field":"y","type":"quantitative","scale":{"domain":[-20,20]},"axis":{"values":[-20,20],"labels":false,"tickSize":-6,"title":null}}},
       "layer":[
        {"data":{"name":"m"},"transform":[{"filter":"datum.p=='L10'"},{"fold":["u","l"],"as":["b","v"]}],"mark":{"type":"line","color":"#74d374","strokeWidth":1.2},"encoding":{"y":{"field":"v","type":"quantitative","scale":{"domain":[-20,20]},"axis":{"values":[-20,20],"labels":false,"tickSize":-6,"title":null}},"detail":{"field":"b","type":"nominal"}}},
        {"data":{"name":"m"},"transform":[{"filter":"datum.p=='L10'"}],"mark":{"type":"line","color":"#004d00","strokeWidth":9}},
        {"data":{"name":"s"},"transform":[{"filter":"datum.p=='L10'"}],"mark":{"type":"line","strokeWidth":10},"encoding":{"color":{"field":"c","type":"nominal","scale":{"domain":["m","r"],"range":["#cc00cc","#cc0000"]},"legend":null}}}
       ]}
     ]}
   ]}
 ]},
{"spacing":31,"bounds":"flush","resolve":{"scale":{"x":"independent","y":"independent","color":"independent"}},
 "vconcat":[
  {"width":615,"height":49,"data":{"values":[]},"mark":{"type":"point","opacity":0}},
  {"width":615,"height":62,"encoding":{"x":{"field":"x","type":"quantitative","scale":{"domain":[0,800]},"axis":{"orient":"top","values":[0,200,400,600,800],"tickSize":-5,"labelPadding":7,"title":null}},"y":{"field":"y","type":"quantitative","scale":{"domain":[-20,20]},"axis":{"values":[-20,0,20],"tickSize":-6,"labelPadding":16,"title":null,"labelExpr":"replace(datum.label,'−','-')"}}},
   "layer":[
    {"data":{"name":"m"},"transform":[{"filter":"datum.p=='R'"},{"fold":["u","l"],"as":["b","v"]}],"mark":{"type":"line","color":"#74d374","strokeWidth":1.2},"encoding":{"y":{"field":"v","type":"quantitative","scale":{"domain":[-20,20]},"axis":{"values":[-20,0,20],"tickSize":-6,"labelPadding":16,"title":null,"labelExpr":"replace(datum.label,'−','-')"}},"detail":{"field":"b","type":"nominal"}}},
    {"data":{"name":"m"},"transform":[{"filter":"datum.p=='R'"}],"mark":{"type":"line","color":"#000038","strokeWidth":10}},
    {"data":{"name":"s"},"transform":[{"filter":"datum.p=='R1'"}],"mark":{"type":"line","strokeWidth":10},"encoding":{"color":{"field":"c","type":"nominal","scale":{"domain":["m","r"],"range":["#cc00cc","#cc0000"]},"legend":null}}}
   ]},
  {"width":615,"height":62,"encoding":{"x":{"field":"x","type":"quantitative","scale":{"domain":[0,800]},"axis":{"values":[0,200,400,600,800],"labels":false,"tickSize":-5,"title":null}},"y":{"field":"y","type":"quantitative","scale":{"domain":[-20,20]},"axis":{"values":[-20,20],"labels":false,"tickSize":-6,"title":null}}},
   "layer":[
    {"data":{"name":"m"},"transform":[{"filter":"datum.p=='R'"},{"fold":["u","l"],"as":["b","v"]}],"mark":{"type":"line","color":"#74d374","strokeWidth":1.2},"encoding":{"y":{"field":"v","type":"quantitative","scale":{"domain":[-20,20]},"axis":{"values":[-20,20],"labels":false,"tickSize":-6,"title":null}},"detail":{"field":"b","type":"nominal"}}},
    {"data":{"name":"m"},"transform":[{"filter":"datum.p=='R'"}],"mark":{"type":"line","color":"#000038","strokeWidth":10}},
    {"data":{"name":"s"},"transform":[{"filter":"datum.p=='R2'"}],"mark":{"type":"line","strokeWidth":10},"encoding":{"color":{"field":"c","type":"nominal","scale":{"domain":["m","r"],"range":["#cc00cc","#cc0000"]},"legend":null}}}
   ]},
  {"width":615,"height":62,"encoding":{"x":{"field":"x","type":"quantitative","scale":{"domain":[0,800]},"axis":{"values":[0,200,400,600,800],"labels":false,"tickSize":-5,"title":null}},"y":{"field":"y","type":"quantitative","scale":{"domain":[-20,20]},"axis":{"values":[-20,20],"labels":false,"tickSize":-6,"title":null}}},
   "layer":[
    {"data":{"name":"m"},"transform":[{"filter":"datum.p=='R'"},{"fold":["u","l"],"as":["b","v"]}],"mark":{"type":"line","color":"#74d374","strokeWidth":1.2},"encoding":{"y":{"field":"v","type":"quantitative","scale":{"domain":[-20,20]},"axis":{"values":[-20,20],"labels":false,"tickSize":-6,"title":null}},"detail":{"field":"b","type":"nominal"}}},
    {"data":{"name":"m"},"transform":[{"filter":"datum.p=='R'"}],"mark":{"type":"line","color":"#000038","strokeWidth":10}},
    {"data":{"name":"s"},"transform":[{"filter":"datum.p=='R3'"}],"mark":{"type":"line","strokeWidth":10},"encoding":{"color":{"field":"c","type":"nominal","scale":{"domain":["m","r"],"range":["#cc00cc","#cc0000"]},"legend":null}}}
   ]},
  {"width":615,"height":62,"encoding":{"x":{"field":"x","type":"quantitative","scale":{"domain":[0,800]},"axis":{"values":[0,200,400,600,800],"labels":false,"tickSize":-5,"title":null}},"y":{"field":"y","type":"quantitative","scale":{"domain":[-20,20]},"axis":{"values":[-20,20],"labels":false,"tickSize":-6,"title":null}}},
   "layer":[
    {"data":{"name":"m"},"transform":[{"filter":"datum.p=='R'"},{"fold":["u","l"],"as":["b","v"]}],"mark":{"type":"line","color":"#74d374","strokeWidth":1.2},"encoding":{"y":{"field":"v","type":"quantitative","scale":{"domain":[-20,20]},"axis":{"values":[-20,20],"labels":false,"tickSize":-6,"title":null}},"detail":{"field":"b","type":"nominal"}}},
    {"data":{"name":"m"},"transform":[{"filter":"datum.p=='R'"}],"mark":{"type":"line","color":"#000038","strokeWidth":10}},
    {"data":{"name":"s"},"transform":[{"filter":"datum.p=='R4'"}],"mark":{"type":"line","strokeWidth":10},"encoding":{"color":{"field":"c","type":"nominal","scale":{"domain":["m","r"],"range":["#cc00cc","#cc0000"]},"legend":null}}}
   ]},
  {"width":615,"height":62,"encoding":{"x":{"field":"x","type":"quantitative","scale":{"domain":[0,800]},"axis":{"values":[0,200,400,600,800],"labels":false,"tickSize":-5,"title":null}},"y":{"field":"y","type":"quantitative","scale":{"domain":[-20,20]},"axis":{"values":[-20,20],"labels":false,"tickSize":-6,"title":null}}},
   "layer":[
    {"data":{"name":"m"},"transform":[{"filter":"datum.p=='R'"},{"fold":["u","l"],"as":["b","v"]}],"mark":{"type":"line","color":"#74d374","strokeWidth":1.2},"encoding":{"y":{"field":"v","type":"quantitative","scale":{"domain":[-20,20]},"axis":{"values":[-20,20],"labels":false,"tickSize":-6,"title":null}},"detail":{"field":"b","type":"nominal"}}},
    {"data":{"name":"m"},"transform":[{"filter":"datum.p=='R'"}],"mark":{"type":"line","color":"#000038","strokeWidth":10}},
    {"data":{"name":"s"},"transform":[{"filter":"datum.p=='R5'"}],"mark":{"type":"line","strokeWidth":10},"encoding":{"color":{"field":"c","type":"nominal","scale":{"domain":["m","r"],"range":["#cc00cc","#cc0000"]},"legend":null}}}
   ]},
  {"width":615,"height":62,"encoding":{"x":{"field":"x","type":"quantitative","scale":{"domain":[0,800]},"axis":{"values":[0,200,400,600,800],"labels":false,"tickSize":-5,"title":null}},"y":{"field":"y","type":"quantitative","scale":{"domain":[-20,20]},"axis":{"values":[-20,20],"labels":false,"tickSize":-6,"title":null}}},
   "layer":[
    {"data":{"name":"m"},"transform":[{"filter":"datum.p=='R'"},{"fold":["u","l"],"as":["b","v"]}],"mark":{"type":"line","color":"#74d374","strokeWidth":1.2},"encoding":{"y":{"field":"v","type":"quantitative","scale":{"domain":[-20,20]},"axis":{"values":[-20,20],"labels":false,"tickSize":-6,"title":null}},"detail":{"field":"b","type":"nominal"}}},
    {"data":{"name":"m"},"transform":[{"filter":"datum.p=='R'"}],"mark":{"type":"line","color":"#000038","strokeWidth":10}},
    {"data":{"name":"s"},"transform":[{"filter":"datum.p=='R6'"}],"mark":{"type":"line","strokeWidth":10},"encoding":{"color":{"field":"c","type":"nominal","scale":{"domain":["m","r"],"range":["#cc00cc","#cc0000"]},"legend":null}}}
   ]},
  {"width":615,"height":62,"encoding":{"x":{"field":"x","type":"quantitative","scale":{"domain":[0,800]},"axis":{"values":[0,200,400,600,800],"labels":false,"tickSize":-5,"title":null}},"y":{"field":"y","type":"quantitative","scale":{"domain":[-20,20]},"axis":{"values":[-20,20],"labels":false,"tickSize":-6,"title":null}}},
   "layer":[
    {"data":{"name":"m"},"transform":[{"filter":"datum.p=='R'"},{"fold":["u","l"],"as":["b","v"]}],"mark":{"type":"line","color":"#74d374","strokeWidth":1.2},"encoding":{"y":{"field":"v","type":"quantitative","scale":{"domain":[-20,20]},"axis":{"values":[-20,20],"labels":false,"tickSize":-6,"title":null}},"detail":{"field":"b","type":"nominal"}}},
    {"data":{"name":"m"},"transform":[{"filter":"datum.p=='R'"}],"mark":{"type":"line","color":"#000038","strokeWidth":10}},
    {"data":{"name":"s"},"transform":[{"filter":"datum.p=='R7'"}],"mark":{"type":"line","strokeWidth":10},"encoding":{"color":{"field":"c","type":"nominal","scale":{"domain":["m","r"],"range":["#cc00cc","#cc0000"]},"legend":null}}}
   ]},
  {"width":615,"height":62,"encoding":{"x":{"field":"x","type":"quantitative","scale":{"domain":[0,800]},"axis":{"values":[0,200,400,600,800],"labels":false,"tickSize":-5,"title":null}},"y":{"field":"y","type":"quantitative","scale":{"domain":[-20,20]},"axis":{"values":[-20,20],"labels":false,"tickSize":-6,"title":null}}},
   "layer":[
    {"data":{"name":"m"},"transform":[{"filter":"datum.p=='R8'"},{"fold":["u","l"],"as":["b","v"]}],"mark":{"type":"line","color":"#74d374","strokeWidth":1.2},"encoding":{"y":{"field":"v","type":"quantitative","scale":{"domain":[-20,20]},"axis":{"values":[-20,20],"labels":false,"tickSize":-6,"title":null}},"detail":{"field":"b","type":"nominal"}}},
    {"data":{"name":"m"},"transform":[{"filter":"datum.p=='R8'"}],"mark":{"type":"line","color":"#000038","strokeWidth":10}},
    {"data":{"name":"s"},"transform":[{"filter":"datum.p=='R8'"}],"mark":{"type":"circle","size":95,"opacity":1},"encoding":{"color":{"field":"c","type":"nominal","scale":{"domain":["m","r"],"range":["#cc00cc","#cc0000"]},"legend":null}}}
   ]},
  {"width":615,"height":62,"encoding":{"x":{"field":"x","type":"quantitative","scale":{"domain":[0,800]},"axis":{"values":[0,200,400,600,800],"labels":false,"tickSize":-5,"title":null}},"y":{"field":"y","type":"quantitative","scale":{"domain":[-20,20]},"axis":{"values":[-20,20],"labels":false,"tickSize":-6,"title":null}}},
   "layer":[
    {"data":{"name":"m"},"transform":[{"filter":"datum.p=='R'"},{"fold":["u","l"],"as":["b","v"]}],"mark":{"type":"line","color":"#74d374","strokeWidth":1.2},"encoding":{"y":{"field":"v","type":"quantitative","scale":{"domain":[-20,20]},"axis":{"values":[-20,20],"labels":false,"tickSize":-6,"title":null}},"detail":{"field":"b","type":"nominal"}}},
    {"data":{"name":"m"},"transform":[{"filter":"datum.p=='R'"}],"mark":{"type":"line","color":"#000038","strokeWidth":10}},
    {"data":{"name":"s"},"transform":[{"filter":"datum.p=='R9'"}],"mark":{"type":"line","strokeWidth":10},"encoding":{"color":{"field":"c","type":"nominal","scale":{"domain":["m","r"],"range":["#cc00cc","#cc0000"]},"legend":null}}}
   ]},
  {"width":615,"height":62,"encoding":{"x":{"field":"x","type":"quantitative","scale":{"domain":[0,800]},"axis":{"values":[0,200,400,600,800],"labels":false,"tickSize":-5,"title":null}},"y":{"field":"y","type":"quantitative","scale":{"domain":[-20,20]},"axis":{"values":[-20,20],"labels":false,"tickSize":-6,"title":null}}},
   "layer":[
    {"data":{"name":"m"},"transform":[{"filter":"datum.p=='R'"},{"fold":["u","l"],"as":["b","v"]}],"mark":{"type":"line","color":"#74d374","strokeWidth":1.2},"encoding":{"y":{"field":"v","type":"quantitative","scale":{"domain":[-20,20]},"axis":{"values":[-20,20],"labels":false,"tickSize":-6,"title":null}},"detail":{"field":"b","type":"nominal"}}},
    {"data":{"name":"m"},"transform":[{"filter":"datum.p=='R'"}],"mark":{"type":"line","color":"#000038","strokeWidth":10}},
    {"data":{"name":"s"},"transform":[{"filter":"datum.p=='R10'"}],"mark":{"type":"line","strokeWidth":10},"encoding":{"color":{"field":"c","type":"nominal","scale":{"domain":["m","r"],"range":["#cc00cc","#cc0000"]},"legend":null}}}
   ]}
 ]}
]
}
